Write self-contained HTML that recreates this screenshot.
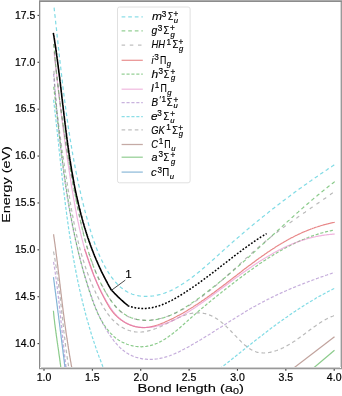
<!DOCTYPE html><html><head><meta charset="utf-8"><style>html,body{margin:0;padding:0;background:#fff;overflow:hidden;}svg{display:block;will-change:transform}text{font-family:"Liberation Sans",sans-serif;stroke:#000;stroke-width:0.12px;}</style></head><body>
<svg width="342" height="396" viewBox="0 0 342 396">
<rect width="342" height="396" fill="#fff"/>
<defs><clipPath id="ax"><rect x="39.5" y="0.5" width="301" height="368"/></clipPath></defs>
<g clip-path="url(#ax)" fill="none" stroke-linecap="butt" stroke-linejoin="round">
<path d="M53.6,234.3 L53.7,235.3 L53.8,236.3 L54.0,237.3 L54.1,238.3 L54.3,239.3 L54.4,240.3 L54.5,241.3 L54.7,242.3 L54.8,243.3 L55.0,244.3 L55.1,245.3 L55.2,246.3 L55.4,247.3 L55.5,248.3 L55.6,249.3 L55.8,250.3 L55.9,251.3 L56.0,252.3 L56.1,253.3 L56.3,254.3 L56.4,255.3 L56.5,256.3 L56.7,257.3 L56.8,258.3 L56.9,259.3 L57.0,260.3 L57.2,261.3 L57.3,262.3 L57.4,263.3 L57.5,264.3 L57.7,265.3 L57.8,266.3 L57.9,267.3 L58.0,268.3 L58.1,269.3 L58.3,270.3 L58.4,271.3 L58.5,272.3 L58.6,273.3 L58.8,274.3 L58.9,275.3 L59.0,276.3 L59.1,277.3 L59.2,278.3 L59.4,279.3 L59.5,280.3 L59.6,281.3 L59.7,282.3 L59.8,283.3 L60.0,284.3 L60.1,285.3 L60.2,286.3 L60.3,287.3 L60.4,288.3 L60.6,289.3 L60.7,290.3 L60.8,291.3 L60.9,292.3 L61.0,293.3 L61.2,294.3 L61.3,295.3 L61.4,296.3 L61.5,297.3 L61.6,298.3 L61.8,299.3 L61.9,300.3 L62.0,301.3 L62.1,302.3 L62.2,303.3 L62.4,304.3 L62.5,305.3 L62.6,306.3 L62.7,307.3 L62.9,308.3 L63.0,309.3 L63.1,310.3 L63.2,311.3 L63.4,312.3 L63.5,313.3 L63.6,314.3 L63.8,315.3 L63.9,316.3 L64.0,317.3 L64.1,318.3 L64.3,319.3 L64.4,320.3 L64.5,321.3 L64.7,322.3 L64.8,323.3 L64.9,324.3 L65.1,325.3 L65.2,326.3 L65.4,327.3 L65.5,328.3 L65.6,329.3 L65.8,330.3 L65.9,331.3 L66.0,332.3 L66.2,333.3 L66.3,334.3 L66.5,335.3 L66.6,336.3 L66.8,337.2 L66.9,338.2 L67.1,339.2 L67.2,340.2 L67.4,341.2 L67.5,342.2 L67.7,343.2 L67.8,344.2 L68.0,345.2 L68.1,346.2 L68.3,347.2 L68.4,348.2 L68.6,349.2 L68.8,350.2 L68.9,351.2 L69.1,352.2 L69.2,353.2 L69.4,354.2 L69.6,355.2 L69.7,356.2 L69.9,357.2 L70.1,358.1 L70.3,359.1 L70.4,360.1 L70.6,361.1 L70.8,362.1 L71.0,363.1 L71.1,364.1 L71.3,365.1 L71.5,366.1 L71.7,367.1 L71.9,368.1 L72.1,369.1 L72.3,370.1 L72.4,371.0 L72.6,372.0 L72.8,373.0 L73.0,374.0 L73.2,375.0 L73.4,376.0 L73.6,377.0" stroke="#8c564b" stroke-width="1.2" stroke-opacity="0.55"/>
<path d="M53.5,251.5 L53.7,252.5 L53.9,253.5 L54.1,254.5 L54.3,255.5 L54.4,256.5 L54.6,257.5 L54.8,258.5 L55.0,259.5 L55.1,260.5 L55.3,261.5 L55.5,262.5 L55.6,263.5 L55.8,264.5 L55.9,265.5 L56.1,266.5 L56.2,267.5 L56.4,268.5 L56.5,269.5 L56.7,270.5 L56.8,271.5 L57.0,272.5 L57.1,273.5 L57.3,274.5 L57.4,275.5 L57.5,276.5 L57.7,277.5 L57.8,278.5 L57.9,279.5 L58.1,280.5 L58.2,281.5 L58.3,282.5 L58.5,283.5 L58.6,284.5 L58.7,285.5 L58.8,286.5 L59.0,287.6 L59.1,288.6 L59.2,289.6 L59.3,290.6 L59.5,291.6 L59.6,292.6 L59.7,293.6 L59.8,294.6 L59.9,295.6 L60.0,296.6 L60.2,297.6 L60.3,298.6 L60.4,299.6 L60.5,300.6 L60.6,301.6 L60.7,302.6 L60.8,303.7 L60.9,304.7 L61.1,305.7 L61.2,306.7 L61.3,307.7 L61.4,308.7 L61.5,309.7 L61.6,310.7 L61.7,311.7 L61.8,312.7 L61.9,313.7 L62.1,314.7 L62.2,315.7 L62.3,316.7 L62.4,317.8 L62.5,318.8 L62.6,319.8 L62.7,320.8 L62.8,321.8 L62.9,322.8 L63.0,323.8 L63.2,324.8 L63.3,325.8 L63.4,326.8 L63.5,327.8 L63.6,328.8 L63.7,329.8 L63.8,330.8 L63.9,331.9 L64.1,332.9 L64.2,333.9 L64.3,334.9 L64.4,335.9 L64.5,336.9 L64.7,337.9 L64.8,338.9 L64.9,339.9 L65.0,340.9 L65.1,341.9 L65.3,342.9 L65.4,343.9 L65.5,344.9 L65.6,345.9 L65.8,346.9 L65.9,347.9 L66.0,349.0 L66.2,350.0 L66.3,351.0 L66.4,352.0 L66.6,353.0 L66.7,354.0 L66.9,355.0 L67.0,356.0 L67.1,357.0 L67.3,358.0 L67.4,359.0 L67.6,360.0 L67.7,361.0 L67.9,362.0 L68.0,363.0 L68.2,364.0 L68.4,365.0 L68.5,366.0 L68.7,367.0 L68.8,368.0 L69.0,369.0 L69.2,370.0 L69.3,371.0 L69.5,372.0 L69.7,373.0 L69.9,374.0 L70.0,375.0 L70.2,376.0 L70.4,377.0 L70.6,378.0" stroke="#7f7f7f" stroke-width="1.2" stroke-dasharray="3.6,3.0" stroke-opacity="0.55"/>
<path d="M53.6,261.9 L53.7,262.9 L53.9,263.9 L54.0,264.9 L54.2,265.9 L54.4,266.9 L54.5,267.9 L54.7,268.9 L54.8,269.9 L55.0,270.9 L55.1,271.9 L55.3,272.9 L55.4,274.0 L55.6,275.0 L55.7,276.0 L55.8,277.0 L56.0,278.0 L56.1,279.0 L56.3,280.0 L56.4,281.0 L56.5,282.0 L56.7,283.0 L56.8,284.0 L56.9,285.0 L57.1,286.0 L57.2,287.1 L57.3,288.1 L57.4,289.1 L57.6,290.1 L57.7,291.1 L57.8,292.1 L57.9,293.1 L58.0,294.1 L58.2,295.1 L58.3,296.1 L58.4,297.1 L58.5,298.2 L58.6,299.2 L58.7,300.2 L58.9,301.2 L59.0,302.2 L59.1,303.2 L59.2,304.2 L59.3,305.2 L59.4,306.2 L59.5,307.3 L59.6,308.3 L59.8,309.3 L59.9,310.3 L60.0,311.3 L60.1,312.3 L60.2,313.3 L60.3,314.3 L60.4,315.3 L60.5,316.4 L60.6,317.4 L60.7,318.4 L60.8,319.4 L60.9,320.4 L61.0,321.4 L61.1,322.4 L61.2,323.4 L61.3,324.4 L61.4,325.5 L61.6,326.5 L61.7,327.5 L61.8,328.5 L61.9,329.5 L62.0,330.5 L62.1,331.5 L62.2,332.5 L62.3,333.6 L62.4,334.6 L62.5,335.6 L62.6,336.6 L62.7,337.6 L62.8,338.6 L62.9,339.6 L63.0,340.6 L63.1,341.6 L63.2,342.7 L63.4,343.7 L63.5,344.7 L63.6,345.7 L63.7,346.7 L63.8,347.7 L63.9,348.7 L64.0,349.7 L64.1,350.7 L64.2,351.8 L64.4,352.8 L64.5,353.8 L64.6,354.8 L64.7,355.8 L64.8,356.8 L64.9,357.8 L65.1,358.8 L65.2,359.8 L65.3,360.9 L65.4,361.9 L65.6,362.9 L65.7,363.9 L65.8,364.9 L65.9,365.9 L66.1,366.9 L66.2,367.9 L66.3,368.9 L66.5,369.9 L66.6,370.9 L66.7,371.9 L66.9,373.0 L67.0,374.0 L67.1,375.0 L67.3,376.0 L67.4,377.0 L67.6,378.0" stroke="#9467bd" stroke-width="1.2" stroke-dasharray="3.1,1.8" stroke-opacity="0.55"/>
<path d="M53.5,277.1 L53.6,278.1 L53.7,279.1 L53.9,280.1 L54.0,281.1 L54.1,282.1 L54.3,283.2 L54.4,284.2 L54.5,285.2 L54.6,286.2 L54.8,287.2 L54.9,288.2 L55.0,289.2 L55.2,290.2 L55.3,291.2 L55.4,292.2 L55.6,293.2 L55.7,294.2 L55.8,295.3 L56.0,296.3 L56.1,297.3 L56.2,298.3 L56.4,299.3 L56.5,300.3 L56.6,301.3 L56.7,302.3 L56.9,303.3 L57.0,304.3 L57.1,305.3 L57.3,306.4 L57.4,307.4 L57.5,308.4 L57.6,309.4 L57.8,310.4 L57.9,311.4 L58.0,312.4 L58.2,313.4 L58.3,314.4 L58.4,315.4 L58.6,316.4 L58.7,317.5 L58.8,318.5 L58.9,319.5 L59.1,320.5 L59.2,321.5 L59.3,322.5 L59.5,323.5 L59.6,324.5 L59.7,325.5 L59.8,326.5 L60.0,327.5 L60.1,328.6 L60.2,329.6 L60.3,330.6 L60.5,331.6 L60.6,332.6 L60.7,333.6 L60.9,334.6 L61.0,335.6 L61.1,336.6 L61.2,337.6 L61.4,338.6 L61.5,339.7 L61.6,340.7 L61.7,341.7 L61.9,342.7 L62.0,343.7 L62.1,344.7 L62.3,345.7 L62.4,346.7 L62.5,347.7 L62.6,348.7 L62.8,349.7 L62.9,350.8 L63.0,351.8 L63.1,352.8 L63.3,353.8 L63.4,354.8 L63.5,355.8 L63.7,356.8 L63.8,357.8 L63.9,358.8 L64.0,359.8 L64.2,360.8 L64.3,361.9 L64.4,362.9 L64.5,363.9 L64.7,364.9 L64.8,365.9 L64.9,366.9 L65.0,367.9 L65.2,368.9 L65.3,369.9 L65.4,370.9 L65.5,371.9 L65.7,373.0 L65.8,374.0 L65.9,375.0 L66.1,376.0 L66.2,377.0 L66.3,378.0" stroke="#1f77b4" stroke-width="1.2" stroke-opacity="0.55"/>
<path d="M53.4,310.8 L53.5,311.8 L53.6,312.8 L53.7,313.9 L53.8,314.9 L53.9,315.9 L54.0,316.9 L54.1,318.0 L54.2,319.0 L54.4,320.0 L54.5,321.0 L54.6,322.0 L54.7,323.0 L54.8,324.1 L55.0,325.1 L55.1,326.1 L55.2,327.1 L55.4,328.1 L55.5,329.2 L55.6,330.2 L55.8,331.2 L55.9,332.2 L56.0,333.2 L56.2,334.2 L56.3,335.3 L56.5,336.3 L56.6,337.3 L56.8,338.3 L56.9,339.3 L57.0,340.3 L57.2,341.4 L57.3,342.4 L57.5,343.4 L57.6,344.4 L57.8,345.4 L57.9,346.4 L58.1,347.5 L58.2,348.5 L58.4,349.5 L58.5,350.5 L58.7,351.5 L58.8,352.5 L58.9,353.6 L59.1,354.6 L59.2,355.6 L59.4,356.6 L59.5,357.6 L59.7,358.6 L59.8,359.7 L59.9,360.7 L60.1,361.7 L60.2,362.7 L60.3,363.7 L60.5,364.7 L60.6,365.8 L60.7,366.8 L60.9,367.8 L61.0,368.8 L61.1,369.8 L61.2,370.9 L61.3,371.9 L61.5,372.9 L61.6,373.9 L61.7,374.9 L61.8,376.0 L61.9,377.0 L62.0,378.0" stroke="#2ca02c" stroke-width="1.2" stroke-opacity="0.55"/>
<path d="M284.60,375.00L334.50,336.80" stroke="#8c564b" stroke-width="1.2" stroke-opacity="0.55"/>
<path d="M305.20,375.00L334.50,350.30" stroke="#2ca02c" stroke-width="1.2" stroke-opacity="0.55"/>
<path d="M53.6,99.8 L53.7,100.8 L53.8,101.8 L53.9,102.7 L54.1,103.7 L54.2,104.7 L54.3,105.7 L54.4,106.7 L54.5,107.7 L54.6,108.7 L54.8,109.7 L54.9,110.7 L55.0,111.7 L55.1,112.7 L55.2,113.7 L55.3,114.7 L55.4,115.7 L55.5,116.7 L55.7,117.6 L55.8,118.6 L55.9,119.6 L56.0,120.6 L56.1,121.6 L56.2,122.6 L56.3,123.6 L56.4,124.6 L56.5,125.6 L56.6,126.6 L56.8,127.6 L56.9,128.6 L57.0,129.6 L57.1,130.6 L57.2,131.6 L57.3,132.6 L57.4,133.6 L57.5,134.6 L57.6,135.6 L57.7,136.6 L57.8,137.6 L57.9,138.6 L58.1,139.6 L58.2,140.6 L58.3,141.6 L58.4,142.6 L58.5,143.6 L58.6,144.6 L58.7,145.6 L58.8,146.6 L58.9,147.6 L59.0,148.6 L59.1,149.6 L59.2,150.6 L59.3,151.6 L59.5,152.6 L59.6,153.6 L59.7,154.6 L59.8,155.6 L59.9,156.6 L60.0,157.6 L60.1,158.6 L60.2,159.6 L60.3,160.6 L60.4,161.6 L60.5,162.6 L60.6,163.6 L60.8,164.6 L60.9,165.6 L61.0,166.6 L61.1,167.6 L61.2,168.6 L61.3,169.6 L61.4,170.6 L61.5,171.6 L61.6,172.6 L61.8,173.6 L61.9,174.6 L62.0,175.6 L62.1,176.6 L62.2,177.6 L62.3,178.6 L62.4,179.6 L62.6,180.6 L62.7,181.6 L62.8,182.6 L62.9,183.6 L63.0,184.6 L63.1,185.6 L63.2,186.6 L63.4,187.6 L63.5,188.6 L63.6,189.6 L63.7,190.6 L63.8,191.6 L64.0,192.6 L64.1,193.6 L64.2,194.6 L64.3,195.6 L64.4,196.6 L64.6,197.6 L64.7,198.6 L64.8,199.6 L64.9,200.6 L65.1,201.6 L65.2,202.6 L65.3,203.6 L65.4,204.6 L65.6,205.6 L65.7,206.6 L65.8,207.6 L65.9,208.6 L66.1,209.6 L66.2,210.6 L66.3,211.6 L66.5,212.6 L66.6,213.6 L66.7,214.6 L66.9,215.6 L67.0,216.6 L67.1,217.6 L67.3,218.6 L67.4,219.6 L67.6,220.6 L67.7,221.6 L67.8,222.6 L68.0,223.6 L68.1,224.6 L68.3,225.6 L68.4,226.6 L68.5,227.6 L68.7,228.6 L68.8,229.6 L69.0,230.6 L69.1,231.6 L69.3,232.6 L69.4,233.5 L69.6,234.5 L69.7,235.5 L69.9,236.5 L70.0,237.5 L70.2,238.5 L70.3,239.5 L70.5,240.5 L70.6,241.5 L70.8,242.5 L71.0,243.5 L71.1,244.5 L71.3,245.5 L71.4,246.5 L71.6,247.5 L71.8,248.5 L71.9,249.4 L72.1,250.4 L72.3,251.4 L72.4,252.4 L72.6,253.4 L72.8,254.4 L72.9,255.4 L73.1,256.4 L73.3,257.4 L73.5,258.4 L73.6,259.4 L73.8,260.3 L74.0,261.3 L74.2,262.3 L74.4,263.3 L74.5,264.3 L74.7,265.3 L74.9,266.3 L75.1,267.3 L75.3,268.3 L75.5,269.2 L75.7,270.2 L75.8,271.2 L76.0,272.2 L76.2,273.2 L76.4,274.2 L76.6,275.2 L76.8,276.1 L77.0,277.1 L77.2,278.1 L77.4,279.1 L77.6,280.1 L77.8,281.1 L78.0,282.0 L78.2,283.0 L78.4,284.0 L78.7,285.0 L78.9,286.0 L79.1,286.9 L79.3,287.9 L79.5,288.9 L79.7,289.9 L80.0,290.9 L80.2,291.8 L80.4,292.8 L80.6,293.8 L80.8,294.8 L81.1,295.8 L81.3,296.7 L81.5,297.7 L81.8,298.7 L82.0,299.7 L82.2,300.6 L82.5,301.6 L82.7,302.6 L82.9,303.6 L83.2,304.5 L83.4,305.5 L83.7,306.5 L83.9,307.4 L84.2,308.4 L84.4,309.4 L84.7,310.4 L84.9,311.3 L85.2,312.3 L85.4,313.3 L85.7,314.2 L85.9,315.2 L86.2,316.2 L86.5,317.1 L86.7,318.1 L87.0,319.1 L87.3,320.0 L87.5,321.0 L87.8,322.0 L88.1,322.9 L88.4,323.9 L88.7,324.9 L88.9,325.8 L89.2,326.8 L89.5,327.8 L89.8,328.7 L90.1,329.7 L90.4,330.6 L90.7,331.6 L90.9,332.6 L91.2,333.5 L91.5,334.5 L91.8,335.4 L92.1,336.4 L92.4,337.3 L92.7,338.3 L93.1,339.3 L93.4,340.2 L93.7,341.2 L94.0,342.1 L94.3,343.1 L94.6,344.0 L94.9,345.0 L95.3,345.9 L95.6,346.9 L95.9,347.8 L96.2,348.8 L96.6,349.7 L96.9,350.7 L97.2,351.6 L97.6,352.6 L97.9,353.5 L98.3,354.5 L98.6,355.4 L98.9,356.4 L99.3,357.3 L99.6,358.2 L100.0,359.2 L100.4,360.1 L100.7,361.1 L101.1,362.0 L101.4,363.0 L101.8,363.9 L102.2,364.8 L102.5,365.8 L102.9,366.7 L103.3,367.7 L103.6,368.6 L104.0,369.5 L104.4,370.5 L104.8,371.4 L105.2,372.3 L105.6,373.3 L105.9,374.2 L106.3,375.1 L106.7,376.1" stroke="#17becf" stroke-width="1.2" stroke-dasharray="3.1,1.8" stroke-opacity="0.55"/>
<path d="M212.0,374.9 L212.8,374.3 L213.6,373.7 L214.4,373.1 L215.1,372.5 L215.9,371.8 L216.7,371.2 L217.5,370.6 L218.3,370.0 L219.1,369.4 L219.9,368.7 L220.7,368.1 L221.5,367.5 L222.3,366.9 L223.0,366.2 L223.8,365.6 L224.6,365.0 L225.4,364.3 L226.2,363.7 L227.0,363.1 L227.8,362.5 L228.6,361.8 L229.4,361.2 L230.1,360.6 L230.9,359.9 L231.7,359.3 L232.5,358.7 L233.3,358.0 L234.1,357.4 L234.9,356.8 L235.7,356.2 L236.4,355.5 L237.2,354.9 L238.0,354.3 L238.8,353.6 L239.6,353.0 L240.4,352.4 L241.2,351.7 L242.0,351.1 L242.8,350.5 L243.5,349.8 L244.3,349.2 L245.1,348.6 L245.9,348.0 L246.7,347.3 L247.5,346.7 L248.3,346.1 L249.1,345.4 L249.9,344.8 L250.7,344.2 L251.5,343.6 L252.2,342.9 L253.0,342.3 L253.8,341.7 L254.6,341.1 L255.4,340.4 L256.2,339.8 L257.0,339.2 L257.8,338.6 L258.6,337.9 L259.4,337.3 L260.2,336.7 L261.0,336.1 L261.8,335.5 L262.6,334.9 L263.4,334.2 L264.2,333.6 L265.0,333.0 L265.8,332.4 L266.6,331.8 L267.4,331.2 L268.2,330.6 L269.0,330.0 L269.8,329.3 L270.6,328.7 L271.4,328.1 L272.3,327.5 L273.1,326.9 L273.9,326.3 L274.7,325.7 L275.5,325.1 L276.3,324.5 L277.1,323.9 L277.9,323.3 L278.7,322.7 L279.6,322.1 L280.4,321.5 L281.2,321.0 L282.0,320.4 L282.8,319.8 L283.7,319.2 L284.5,318.6 L285.3,318.0 L286.1,317.4 L287.0,316.9 L287.8,316.3 L288.6,315.7 L289.4,315.1 L290.3,314.6 L291.1,314.0 L291.9,313.4 L292.8,312.9 L293.6,312.3 L294.4,311.7 L295.3,311.2 L296.1,310.6 L296.9,310.1 L297.8,309.5 L298.6,308.9 L299.5,308.4 L300.3,307.8 L301.2,307.3 L302.0,306.8 L302.9,306.2 L303.7,305.7 L304.6,305.1 L305.4,304.6 L306.3,304.1 L307.1,303.5 L308.0,303.0 L308.8,302.5 L309.7,302.0 L310.6,301.4 L311.4,300.9 L312.3,300.4 L313.2,299.9 L314.0,299.4 L314.9,298.9 L315.8,298.3 L316.6,297.8 L317.5,297.3 L318.4,296.8 L319.3,296.3 L320.2,295.9 L321.0,295.4 L321.9,294.9 L322.8,294.4 L323.7,293.9 L324.6,293.4 L325.5,292.9 L326.4,292.5 L327.3,292.0 L328.1,291.5 L329.0,291.1 L329.9,290.6 L330.8,290.1 L331.8,289.7 L332.7,289.2 L333.6,288.8 L334.5,288.3" stroke="#17becf" stroke-width="1.2" stroke-dasharray="3.1,1.8" stroke-opacity="0.55"/>
<path d="M53.6,73.9 L53.7,74.9 L53.8,75.9 L53.9,76.9 L54.0,77.9 L54.1,78.9 L54.1,79.9 L54.2,80.9 L54.3,81.9 L54.4,82.9 L54.5,83.9 L54.6,84.9 L54.7,85.9 L54.7,86.9 L54.8,87.9 L54.9,88.9 L55.0,89.9 L55.1,90.9 L55.2,91.9 L55.3,92.9 L55.4,93.9 L55.5,94.9 L55.5,95.9 L55.6,96.9 L55.7,97.9 L55.8,98.9 L55.9,99.9 L56.0,100.9 L56.1,101.9 L56.2,102.9 L56.3,103.9 L56.3,104.9 L56.4,105.9 L56.5,106.9 L56.6,107.9 L56.7,108.9 L56.8,109.9 L56.9,110.9 L57.0,111.9 L57.1,112.9 L57.2,113.9 L57.3,114.9 L57.4,115.9 L57.5,116.9 L57.6,117.9 L57.7,118.9 L57.8,119.9 L57.8,120.9 L57.9,121.9 L58.0,122.9 L58.1,123.9 L58.2,124.9 L58.3,125.9 L58.4,126.9 L58.5,127.9 L58.6,128.9 L58.7,129.9 L58.8,130.9 L58.9,131.9 L59.0,132.9 L59.1,133.9 L59.2,134.9 L59.4,135.9 L59.5,136.9 L59.6,137.9 L59.7,138.9 L59.8,139.9 L59.9,140.9 L60.0,141.9 L60.1,142.9 L60.2,143.9 L60.3,144.9 L60.4,145.9 L60.5,146.9 L60.7,147.9 L60.8,148.9 L60.9,149.9 L61.0,150.9 L61.1,151.9 L61.2,152.9 L61.3,153.8 L61.5,154.8 L61.6,155.8 L61.7,156.8 L61.8,157.8 L61.9,158.8 L62.1,159.8 L62.2,160.8 L62.3,161.8 L62.4,162.8 L62.5,163.8 L62.7,164.8 L62.8,165.8 L62.9,166.8 L63.1,167.8 L63.2,168.8 L63.3,169.8 L63.4,170.8 L63.6,171.8 L63.7,172.8 L63.8,173.8 L64.0,174.8 L64.1,175.8 L64.2,176.7 L64.4,177.7 L64.5,178.7 L64.7,179.7 L64.8,180.7 L64.9,181.7 L65.1,182.7 L65.2,183.7 L65.4,184.7 L65.5,185.7 L65.7,186.7 L65.8,187.7 L66.0,188.7 L66.1,189.6 L66.3,190.6 L66.4,191.6 L66.6,192.6 L66.7,193.6 L66.9,194.6 L67.0,195.6 L67.2,196.6 L67.4,197.6 L67.5,198.6 L67.7,199.5 L67.8,200.5 L68.0,201.5 L68.2,202.5 L68.3,203.5 L68.5,204.5 L68.7,205.5 L68.8,206.5 L69.0,207.5 L69.2,208.4 L69.4,209.4 L69.5,210.4 L69.7,211.4 L69.9,212.4 L70.1,213.4 L70.3,214.4 L70.4,215.3 L70.6,216.3 L70.8,217.3 L71.0,218.3 L71.2,219.3 L71.4,220.3 L71.6,221.2 L71.7,222.2 L71.9,223.2 L72.1,224.2 L72.3,225.2 L72.5,226.2 L72.7,227.1 L72.9,228.1 L73.1,229.1 L73.3,230.1 L73.5,231.1 L73.7,232.0 L74.0,233.0 L74.2,234.0 L74.4,235.0 L74.6,236.0 L74.8,236.9 L75.0,237.9 L75.2,238.9 L75.5,239.9 L75.7,240.9 L75.9,241.8 L76.1,242.8 L76.4,243.8 L76.6,244.8 L76.8,245.7 L77.0,246.7 L77.3,247.7 L77.5,248.7 L77.7,249.6 L78.0,250.6 L78.2,251.6 L78.5,252.6 L78.7,253.5 L79.0,254.5 L79.2,255.5 L79.4,256.4 L79.7,257.4 L80.0,258.4 L80.2,259.4 L80.5,260.3 L80.7,261.3 L81.0,262.3 L81.2,263.2 L81.5,264.2 L81.8,265.2 L82.0,266.1 L82.3,267.1 L82.6,268.1 L82.8,269.0 L83.1,270.0 L83.4,271.0 L83.7,271.9 L84.0,272.9 L84.2,273.9 L84.5,274.8 L84.8,275.8 L85.1,276.8 L85.4,277.7 L85.7,278.7 L86.0,279.6 L86.3,280.6 L86.6,281.6 L86.9,282.5 L87.2,283.5 L87.5,284.5 L87.8,285.4 L88.1,286.4 L88.4,287.3 L88.7,288.3 L89.0,289.2 L89.3,290.2 L89.7,291.2 L90.0,292.1 L90.3,293.1 L90.6,294.0 L91.0,295.0 L91.3,295.9 L91.6,296.9 L92.0,297.8 L92.3,298.8 L92.6,299.7 L93.0,300.7 L93.3,301.6 L93.7,302.6 L94.0,303.5 L94.4,304.5 L94.8,305.4 L95.1,306.4 L95.5,307.3 L95.9,308.2 L96.2,309.2 L96.6,310.1 L97.0,311.0 L97.4,312.0 L97.8,312.9 L98.2,313.8 L98.6,314.7 L99.0,315.7 L99.5,316.6 L99.9,317.5 L100.3,318.4 L100.7,319.3 L101.2,320.2 L101.6,321.1 L102.1,322.0 L102.6,322.9 L103.0,323.8 L103.5,324.7 L104.0,325.6 L104.5,326.5 L105.0,327.3 L105.5,328.2 L106.0,329.1 L106.5,329.9 L107.0,330.8 L107.5,331.7 L108.1,332.5 L108.6,333.4 L109.2,334.2 L109.8,335.1 L110.3,335.9 L110.9,336.7 L111.5,337.6 L112.1,338.4 L112.7,339.2 L113.3,340.0 L113.9,340.8 L114.6,341.6 L115.2,342.4 L115.9,343.2 L116.5,343.9 L117.2,344.7 L117.9,345.4 L118.6,346.1 L119.3,346.9 L120.0,347.6 L120.7,348.2 L121.5,348.9 L122.2,349.6 L123.0,350.2 L123.8,350.8 L124.5,351.4 L125.3,352.0 L126.1,352.5 L126.9,353.1 L127.8,353.6 L128.6,354.1 L129.5,354.5 L130.3,355.0 L131.2,355.4 L132.1,355.8 L133.0,356.2 L133.9,356.5 L134.8,356.9 L135.7,357.2 L136.6,357.5 L137.6,357.7 L138.5,358.0 L139.5,358.2 L140.4,358.4 L141.4,358.6 L142.3,358.8 L143.3,358.9 L144.3,359.0 L145.2,359.2 L146.2,359.2 L147.2,359.3 L148.2,359.3 L149.2,359.4 L150.2,359.4 L151.2,359.4 L152.2,359.3 L153.2,359.3 L154.1,359.2 L155.1,359.1 L156.1,359.0 L157.1,358.9 L158.1,358.7 L159.1,358.6 L160.1,358.4 L161.1,358.2 L162.0,358.0 L163.0,357.7 L164.0,357.5 L165.0,357.2 L165.9,356.9 L166.9,356.6 L167.8,356.3 L168.8,356.0 L169.8,355.7 L170.7,355.3 L171.7,355.0 L172.6,354.6 L173.5,354.2 L174.5,353.8 L175.4,353.4 L176.4,353.0 L177.3,352.5 L178.2,352.1 L179.2,351.7 L180.1,351.2 L181.0,350.7 L181.9,350.3 L182.8,349.8 L183.8,349.3 L184.7,348.8 L185.6,348.4 L186.5,347.9 L187.4,347.4 L188.3,346.9 L189.2,346.4 L190.1,345.9 L191.0,345.4 L191.9,344.8 L192.8,344.3 L193.6,343.8 L194.5,343.3 L195.4,342.8 L196.3,342.3 L197.2,341.8 L198.0,341.2 L198.9,340.7 L199.8,340.2 L200.7,339.7 L201.5,339.2 L202.4,338.6 L203.3,338.1 L204.1,337.6 L205.0,337.1 L205.8,336.5 L206.7,336.0 L207.6,335.5 L208.4,334.9 L209.3,334.4 L210.1,333.9 L211.0,333.3 L211.8,332.8 L212.7,332.3 L213.5,331.7 L214.4,331.2 L215.2,330.7 L216.1,330.1 L216.9,329.6 L217.7,329.1 L218.6,328.5 L219.4,328.0 L220.3,327.4 L221.1,326.9 L222.0,326.4 L222.8,325.8 L223.6,325.3 L224.5,324.8 L225.3,324.2 L226.2,323.7 L227.0,323.2 L227.8,322.6 L228.7,322.1 L229.5,321.6 L230.4,321.0 L231.2,320.5 L232.0,320.0 L232.9,319.4 L233.7,318.9 L234.6,318.4 L235.4,317.9 L236.2,317.3 L237.1,316.8 L237.9,316.3 L238.8,315.8 L239.6,315.3 L240.5,314.7 L241.3,314.2 L242.2,313.7 L243.0,313.2 L243.9,312.7 L244.7,312.2 L245.6,311.6 L246.4,311.1 L247.3,310.6 L248.1,310.1 L249.0,309.6 L249.8,309.1 L250.7,308.6 L251.5,308.1 L252.4,307.6 L253.3,307.1 L254.1,306.6 L255.0,306.2 L255.9,305.7 L256.8,305.2 L257.6,304.7 L258.5,304.2 L259.4,303.7 L260.3,303.3 L261.1,302.8 L262.0,302.3 L262.9,301.9 L263.8,301.4 L264.7,300.9 L265.6,300.5 L266.5,300.0 L267.4,299.6 L268.3,299.1 L269.2,298.7 L270.1,298.2 L271.0,297.8 L271.9,297.3 L272.8,296.9 L273.7,296.4 L274.6,296.0 L275.5,295.6 L276.4,295.1 L277.3,294.7 L278.3,294.3 L279.2,293.9 L280.1,293.4 L281.0,293.0 L281.9,292.6 L282.9,292.2 L283.8,291.8 L284.7,291.4 L285.6,291.0 L286.6,290.5 L287.5,290.1 L288.4,289.7 L289.3,289.3 L290.3,288.9 L291.2,288.5 L292.1,288.2 L293.1,287.8 L294.0,287.4 L294.9,287.0 L295.9,286.6 L296.8,286.2 L297.8,285.8 L298.7,285.5 L299.6,285.1 L300.6,284.7 L301.5,284.3 L302.5,284.0 L303.4,283.6 L304.3,283.2 L305.3,282.9 L306.2,282.5 L307.2,282.1 L308.1,281.8 L309.1,281.4 L310.0,281.1 L310.9,280.7 L311.9,280.4 L312.8,280.0 L313.8,279.7 L314.7,279.3 L315.7,279.0 L316.6,278.6 L317.6,278.3 L318.5,277.9 L319.4,277.6 L320.4,277.3 L321.3,276.9 L322.3,276.6 L323.2,276.3 L324.2,275.9 L325.1,275.6 L326.0,275.3 L327.0,275.0 L327.9,274.6 L328.9,274.3 L329.8,274.0 L330.7,273.7 L331.7,273.4 L332.6,273.0 L333.6,272.7 L334.5,272.4" stroke="#9467bd" stroke-width="1.2" stroke-dasharray="3.1,1.8" stroke-opacity="0.55"/>
<path d="M53.7,86.8 L53.8,87.8 L53.9,88.8 L54.0,89.8 L54.1,90.8 L54.3,91.8 L54.4,92.8 L54.5,93.8 L54.6,94.8 L54.7,95.8 L54.9,96.8 L55.0,97.8 L55.1,98.8 L55.2,99.8 L55.3,100.7 L55.4,101.7 L55.6,102.7 L55.7,103.7 L55.8,104.7 L55.9,105.7 L56.0,106.7 L56.1,107.7 L56.3,108.7 L56.4,109.7 L56.5,110.7 L56.6,111.7 L56.7,112.7 L56.8,113.7 L57.0,114.7 L57.1,115.7 L57.2,116.7 L57.3,117.7 L57.4,118.7 L57.5,119.7 L57.7,120.7 L57.8,121.7 L57.9,122.7 L58.0,123.7 L58.1,124.7 L58.2,125.7 L58.4,126.7 L58.5,127.7 L58.6,128.7 L58.7,129.7 L58.8,130.7 L58.9,131.7 L59.1,132.7 L59.2,133.7 L59.3,134.7 L59.4,135.7 L59.5,136.7 L59.6,137.7 L59.8,138.7 L59.9,139.7 L60.0,140.7 L60.1,141.7 L60.2,142.6 L60.4,143.6 L60.5,144.6 L60.6,145.6 L60.7,146.6 L60.8,147.6 L61.0,148.6 L61.1,149.6 L61.2,150.6 L61.3,151.6 L61.5,152.6 L61.6,153.6 L61.7,154.6 L61.8,155.6 L62.0,156.6 L62.1,157.6 L62.2,158.6 L62.3,159.6 L62.5,160.6 L62.6,161.6 L62.7,162.6 L62.8,163.5 L63.0,164.5 L63.1,165.5 L63.2,166.5 L63.4,167.5 L63.5,168.5 L63.6,169.5 L63.8,170.5 L63.9,171.5 L64.0,172.5 L64.2,173.5 L64.3,174.5 L64.5,175.5 L64.6,176.5 L64.7,177.4 L64.9,178.4 L65.0,179.4 L65.1,180.4 L65.3,181.4 L65.4,182.4 L65.6,183.4 L65.7,184.4 L65.9,185.4 L66.0,186.4 L66.2,187.4 L66.3,188.4 L66.5,189.3 L66.6,190.3 L66.8,191.3 L66.9,192.3 L67.1,193.3 L67.2,194.3 L67.4,195.3 L67.5,196.3 L67.7,197.3 L67.8,198.2 L68.0,199.2 L68.2,200.2 L68.3,201.2 L68.5,202.2 L68.6,203.2 L68.8,204.2 L69.0,205.2 L69.1,206.1 L69.3,207.1 L69.5,208.1 L69.6,209.1 L69.8,210.1 L70.0,211.1 L70.2,212.1 L70.3,213.1 L70.5,214.0 L70.7,215.0 L70.9,216.0 L71.0,217.0 L71.2,218.0 L71.4,219.0 L71.6,219.9 L71.8,220.9 L72.0,221.9 L72.1,222.9 L72.3,223.9 L72.5,224.9 L72.7,225.8 L72.9,226.8 L73.1,227.8 L73.3,228.8 L73.5,229.8 L73.7,230.8 L73.9,231.7 L74.1,232.7 L74.3,233.7 L74.5,234.7 L74.7,235.7 L74.9,236.6 L75.1,237.6 L75.3,238.6 L75.5,239.6 L75.8,240.6 L76.0,241.5 L76.2,242.5 L76.4,243.5 L76.6,244.5 L76.8,245.4 L77.1,246.4 L77.3,247.4 L77.5,248.4 L77.8,249.3 L78.0,250.3 L78.2,251.3 L78.4,252.3 L78.7,253.3 L78.9,254.2 L79.2,255.2 L79.4,256.2 L79.6,257.1 L79.9,258.1 L80.1,259.1 L80.4,260.1 L80.6,261.0 L80.9,262.0 L81.1,263.0 L81.4,264.0 L81.6,264.9 L81.9,265.9 L82.2,266.9 L82.4,267.8 L82.7,268.8 L82.9,269.8 L83.2,270.8 L83.5,271.7 L83.8,272.7 L84.0,273.7 L84.3,274.6 L84.6,275.6 L84.9,276.6 L85.1,277.5 L85.4,278.5 L85.7,279.5 L86.0,280.4 L86.3,281.4 L86.6,282.4 L86.9,283.3 L87.2,284.3 L87.5,285.3 L87.8,286.2 L88.1,287.2 L88.4,288.1 L88.7,289.1 L89.0,290.1 L89.3,291.0 L89.6,292.0 L89.9,293.0 L90.3,293.9 L90.6,294.9 L90.9,295.8 L91.2,296.8 L91.6,297.8 L91.9,298.7 L92.2,299.7 L92.6,300.6 L92.9,301.6 L93.3,302.5 L93.6,303.5 L94.0,304.4 L94.4,305.4 L94.7,306.3 L95.1,307.2 L95.5,308.2 L95.9,309.1 L96.3,310.0 L96.7,311.0 L97.1,311.9 L97.5,312.8 L97.9,313.7 L98.4,314.6 L98.8,315.5 L99.3,316.4 L99.7,317.3 L100.2,318.2 L100.7,319.1 L101.2,320.0 L101.7,320.8 L102.2,321.7 L102.7,322.6 L103.2,323.4 L103.8,324.3 L104.3,325.1 L104.9,326.0 L105.4,326.8 L106.0,327.6 L106.6,328.4 L107.2,329.2 L107.9,330.0 L108.5,330.8 L109.1,331.6 L109.8,332.3 L110.5,333.1 L111.2,333.8 L111.9,334.5 L112.6,335.2 L113.3,335.9 L114.1,336.6 L114.8,337.3 L115.6,337.9 L116.4,338.5 L117.2,339.1 L118.1,339.7 L118.9,340.2 L119.8,340.7 L120.6,341.2 L121.5,341.7 L122.4,342.2 L123.3,342.6 L124.2,343.1 L125.1,343.5 L126.0,343.8 L127.0,344.2 L127.9,344.5 L128.9,344.8 L129.8,345.1 L130.8,345.4 L131.8,345.6 L132.7,345.9 L133.7,346.0 L134.7,346.2 L135.7,346.4 L136.6,346.5 L137.6,346.6 L138.6,346.7 L139.6,346.7 L140.5,346.7 L141.5,346.8 L142.5,346.7 L143.4,346.7 L144.4,346.6 L145.4,346.5 L146.3,346.4 L147.2,346.2 L148.2,346.1 L149.1,345.9 L150.0,345.7 L151.0,345.4 L151.9,345.2 L152.8,344.9 L153.7,344.6 L154.6,344.2 L155.5,343.9 L156.4,343.5 L157.3,343.2 L158.2,342.8 L159.1,342.3 L159.9,341.9 L160.8,341.4 L161.7,341.0 L162.5,340.5 L163.4,340.0 L164.2,339.5 L165.1,339.0 L165.9,338.4 L166.8,337.9 L167.6,337.3 L168.5,336.7 L169.3,336.1 L170.1,335.5 L171.0,334.9 L171.8,334.3 L172.6,333.7 L173.4,333.0 L174.2,332.4 L175.0,331.7 L175.9,331.1 L176.7,330.4 L177.5,329.7 L178.3,329.1 L179.1,328.4 L179.9,327.7 L180.7,327.0 L181.5,326.3 L182.2,325.6 L183.0,324.9 L183.8,324.2 L184.6,323.5 L185.4,322.8 L186.2,322.1 L187.0,321.4 L187.7,320.7 L188.5,320.0 L189.3,319.3 L190.1,318.6 L190.8,318.0 L191.6,317.3 L192.4,316.6 L193.2,315.9 L193.9,315.2 L194.7,314.6 L195.5,313.9 L196.2,313.2 L197.0,312.6 L197.8,311.9 L198.5,311.2 L199.3,310.6 L200.1,309.9 L200.8,309.3 L201.6,308.6 L202.4,308.0 L203.1,307.3 L203.9,306.7 L204.6,306.1 L205.4,305.4 L206.2,304.8 L206.9,304.1 L207.7,303.5 L208.5,302.9 L209.2,302.3 L210.0,301.6 L210.7,301.0 L211.5,300.4 L212.3,299.8 L213.0,299.1 L213.8,298.5 L214.6,297.9 L215.3,297.3 L216.1,296.7 L216.9,296.1 L217.6,295.4 L218.4,294.8 L219.2,294.2 L219.9,293.6 L220.7,293.0 L221.5,292.4 L222.2,291.8 L223.0,291.2 L223.8,290.6 L224.5,290.0 L225.3,289.3 L226.1,288.7 L226.9,288.1 L227.7,287.5 L228.4,286.9 L229.2,286.3 L230.0,285.7 L230.8,285.1 L231.6,284.5 L232.3,283.9 L233.1,283.3 L233.9,282.7 L234.7,282.1 L235.5,281.5 L236.3,280.8 L237.1,280.2 L237.9,279.6 L238.7,279.0 L239.5,278.4 L240.3,277.8 L241.1,277.2 L241.9,276.6 L242.7,276.0 L243.5,275.4 L244.3,274.8 L245.1,274.2 L245.9,273.6 L246.7,273.0 L247.5,272.4 L248.4,271.8 L249.2,271.2 L250.0,270.6 L250.8,270.0 L251.6,269.4 L252.5,268.9 L253.3,268.3 L254.1,267.7 L254.9,267.1 L255.8,266.5 L256.6,265.9 L257.4,265.4 L258.3,264.8 L259.1,264.2 L259.9,263.6 L260.8,263.1 L261.6,262.5 L262.4,261.9 L263.3,261.4 L264.1,260.8 L265.0,260.3 L265.8,259.7 L266.7,259.1 L267.5,258.6 L268.4,258.0 L269.2,257.5 L270.1,257.0 L270.9,256.4 L271.8,255.9 L272.7,255.4 L273.5,254.8 L274.4,254.3 L275.3,253.8 L276.1,253.3 L277.0,252.7 L277.9,252.2 L278.7,251.7 L279.6,251.2 L280.5,250.7 L281.4,250.2 L282.2,249.7 L283.1,249.2 L284.0,248.7 L284.9,248.3 L285.8,247.8 L286.7,247.3 L287.6,246.8 L288.4,246.4 L289.3,245.9 L290.2,245.4 L291.1,245.0 L292.0,244.5 L292.9,244.1 L293.8,243.7 L294.7,243.2 L295.6,242.8 L296.5,242.4 L297.5,242.0 L298.4,241.5 L299.3,241.1 L300.2,240.7 L301.1,240.3 L302.0,239.9 L302.9,239.5 L303.9,239.2 L304.8,238.8 L305.7,238.4 L306.6,238.0 L307.6,237.7 L308.5,237.3 L309.4,237.0 L310.4,236.6 L311.3,236.3 L312.2,235.9 L313.2,235.6 L314.1,235.3 L315.1,235.0 L316.0,234.7 L317.0,234.4 L317.9,234.1 L318.9,233.8 L319.8,233.5 L320.8,233.2 L321.7,233.0 L322.7,232.7 L323.7,232.4 L324.6,232.2 L325.6,231.9 L326.6,231.7 L327.5,231.5 L328.5,231.3 L329.5,231.0 L330.4,230.8 L331.4,230.6 L332.4,230.4 L333.4,230.2 L334.4,230.1" stroke="#2ca02c" stroke-width="1.2" stroke-dasharray="3.1,1.8" stroke-opacity="0.55"/>
<path d="M53.9,70.9 L54.0,71.9 L54.0,72.9 L54.1,73.9 L54.1,74.9 L54.2,75.9 L54.2,76.9 L54.3,77.9 L54.3,78.9 L54.4,79.9 L54.4,80.9 L54.5,81.9 L54.6,82.9 L54.6,83.9 L54.7,84.9 L54.8,85.9 L54.8,86.9 L54.9,87.9 L55.0,88.9 L55.1,89.9 L55.1,90.9 L55.2,91.9 L55.3,92.9 L55.4,93.9 L55.5,94.9 L55.5,95.9 L55.6,96.9 L55.7,97.9 L55.8,98.9 L55.9,99.9 L56.0,100.9 L56.1,101.9 L56.2,102.9 L56.3,103.9 L56.4,104.9 L56.5,105.9 L56.6,106.9 L56.7,107.9 L56.8,108.9 L56.9,109.9 L57.0,110.8 L57.1,111.8 L57.2,112.8 L57.3,113.8 L57.5,114.8 L57.6,115.8 L57.7,116.8 L57.8,117.8 L57.9,118.8 L58.0,119.8 L58.2,120.8 L58.3,121.8 L58.4,122.8 L58.5,123.8 L58.6,124.8 L58.8,125.8 L58.9,126.8 L59.0,127.8 L59.2,128.8 L59.3,129.7 L59.4,130.7 L59.5,131.7 L59.7,132.7 L59.8,133.7 L59.9,134.7 L60.1,135.7 L60.2,136.7 L60.3,137.7 L60.5,138.7 L60.6,139.7 L60.8,140.7 L60.9,141.7 L61.0,142.6 L61.2,143.6 L61.3,144.6 L61.5,145.6 L61.6,146.6 L61.7,147.6 L61.9,148.6 L62.0,149.6 L62.2,150.6 L62.3,151.6 L62.5,152.6 L62.6,153.6 L62.8,154.6 L62.9,155.5 L63.1,156.5 L63.2,157.5 L63.4,158.5 L63.5,159.5 L63.7,160.5 L63.8,161.5 L64.0,162.5 L64.1,163.5 L64.3,164.5 L64.4,165.5 L64.6,166.5 L64.7,167.4 L64.9,168.4 L65.0,169.4 L65.2,170.4 L65.3,171.4 L65.5,172.4 L65.7,173.4 L65.8,174.4 L66.0,175.4 L66.1,176.4 L66.3,177.4 L66.4,178.3 L66.6,179.3 L66.7,180.3 L66.9,181.3 L67.1,182.3 L67.2,183.3 L67.4,184.3 L67.5,185.3 L67.7,186.3 L67.8,187.3 L68.0,188.3 L68.1,189.3 L68.3,190.2 L68.5,191.2 L68.6,192.2 L68.8,193.2 L68.9,194.2 L69.1,195.2 L69.3,196.2 L69.4,197.2 L69.6,198.2 L69.7,199.2 L69.9,200.1 L70.1,201.1 L70.2,202.1 L70.4,203.1 L70.6,204.1 L70.7,205.1 L70.9,206.1 L71.1,207.1 L71.3,208.1 L71.4,209.0 L71.6,210.0 L71.8,211.0 L72.0,212.0 L72.1,213.0 L72.3,214.0 L72.5,215.0 L72.7,215.9 L72.9,216.9 L73.0,217.9 L73.2,218.9 L73.4,219.9 L73.6,220.9 L73.8,221.8 L74.0,222.8 L74.2,223.8 L74.4,224.8 L74.6,225.8 L74.8,226.7 L75.0,227.7 L75.2,228.7 L75.4,229.7 L75.6,230.7 L75.8,231.6 L76.0,232.6 L76.3,233.6 L76.5,234.6 L76.7,235.5 L76.9,236.5 L77.2,237.5 L77.4,238.5 L77.6,239.4 L77.8,240.4 L78.1,241.4 L78.3,242.3 L78.6,243.3 L78.8,244.3 L79.0,245.2 L79.3,246.2 L79.5,247.2 L79.8,248.1 L80.0,249.1 L80.3,250.1 L80.6,251.0 L80.8,252.0 L81.1,253.0 L81.4,253.9 L81.6,254.9 L81.9,255.8 L82.2,256.8 L82.5,257.7 L82.8,258.7 L83.1,259.7 L83.4,260.6 L83.7,261.6 L84.0,262.5 L84.3,263.5 L84.6,264.4 L84.9,265.4 L85.2,266.3 L85.5,267.3 L85.8,268.2 L86.2,269.1 L86.5,270.1 L86.8,271.0 L87.2,272.0 L87.5,272.9 L87.8,273.8 L88.2,274.8 L88.5,275.7 L88.9,276.7 L89.3,277.6 L89.6,278.5 L90.0,279.5 L90.4,280.4 L90.7,281.3 L91.1,282.2 L91.5,283.2 L91.9,284.1 L92.3,285.0 L92.7,285.9 L93.1,286.9 L93.5,287.8 L93.9,288.7 L94.3,289.6 L94.7,290.5 L95.2,291.5 L95.6,292.4 L96.0,293.3 L96.5,294.2 L96.9,295.1 L97.4,296.0 L97.8,296.9 L98.3,297.8 L98.7,298.7 L99.2,299.6 L99.7,300.5 L100.2,301.4 L100.6,302.3 L101.1,303.2 L101.6,304.1 L102.1,305.0 L102.6,305.9 L103.2,306.8 L103.7,307.6 L104.2,308.5 L104.8,309.4 L105.3,310.2 L105.9,311.1 L106.4,311.9 L107.0,312.8 L107.6,313.6 L108.2,314.4 L108.8,315.2 L109.4,316.0 L110.1,316.8 L110.7,317.6 L111.4,318.3 L112.0,319.1 L112.7,319.8 L113.4,320.5 L114.1,321.2 L114.9,321.9 L115.6,322.6 L116.4,323.2 L117.1,323.8 L117.9,324.5 L118.7,325.1 L119.6,325.6 L120.4,326.2 L121.2,326.7 L122.1,327.3 L122.9,327.7 L123.8,328.2 L124.7,328.7 L125.6,329.1 L126.5,329.5 L127.4,329.9 L128.3,330.2 L129.2,330.5 L130.2,330.8 L131.1,331.1 L132.0,331.3 L133.0,331.5 L133.9,331.7 L134.9,331.8 L135.8,332.0 L136.8,332.0 L137.7,332.1 L138.7,332.1 L139.6,332.1 L140.6,332.1 L141.6,332.0 L142.5,331.9 L143.5,331.8 L144.4,331.7 L145.4,331.5 L146.4,331.3 L147.3,331.1 L148.3,330.9 L149.3,330.7 L150.2,330.4 L151.2,330.1 L152.2,329.8 L153.1,329.5 L154.1,329.2 L155.0,328.8 L156.0,328.5 L156.9,328.1 L157.9,327.7 L158.9,327.3 L159.8,326.9 L160.8,326.5 L161.7,326.0 L162.6,325.6 L163.6,325.1 L164.5,324.7 L165.5,324.2 L166.4,323.8 L167.3,323.3 L168.3,322.8 L169.2,322.3 L170.1,321.9 L171.0,321.4 L172.0,320.9 L172.9,320.4 L173.8,320.0 L174.7,319.5 L175.6,319.1 L176.6,318.6 L177.5,318.2 L178.4,317.7 L179.3,317.3 L180.3,316.9 L181.2,316.5 L182.1,316.1 L183.1,315.8 L184.0,315.4 L184.9,315.1 L185.9,314.8 L186.8,314.5 L187.8,314.2 L188.7,314.0 L189.7,313.7 L190.7,313.5 L191.6,313.4 L192.6,313.2 L193.6,313.1 L194.6,313.0 L195.6,312.9 L196.5,312.9 L197.5,312.8 L198.5,312.8 L199.5,312.9 L200.5,312.9 L201.4,313.0 L202.4,313.1 L203.4,313.3 L204.3,313.5 L205.3,313.7 L206.2,313.9 L207.1,314.2 L208.0,314.4 L208.9,314.8 L209.8,315.1 L210.7,315.5 L211.6,315.9 L212.5,316.3 L213.3,316.7 L214.2,317.2 L215.0,317.7 L215.9,318.2 L216.7,318.7 L217.5,319.2 L218.3,319.8 L219.1,320.4 L219.9,321.0 L220.7,321.6 L221.5,322.3 L222.3,322.9 L223.1,323.6 L223.9,324.2 L224.6,324.9 L225.4,325.6 L226.2,326.3 L226.9,327.1 L227.7,327.8 L228.4,328.5 L229.2,329.3 L229.9,330.0 L230.6,330.8 L231.4,331.5 L232.1,332.3 L232.8,333.1 L233.6,333.8 L234.3,334.6 L235.0,335.4 L235.8,336.1 L236.5,336.9 L237.2,337.7 L238.0,338.4 L238.7,339.2 L239.4,339.9 L240.2,340.7 L240.9,341.4 L241.6,342.1 L242.4,342.8 L243.1,343.5 L243.9,344.2 L244.6,344.9 L245.4,345.5 L246.2,346.1 L246.9,346.8 L247.7,347.3 L248.5,347.9 L249.3,348.5 L250.1,349.0 L250.9,349.5 L251.7,349.9 L252.5,350.4 L253.4,350.8 L254.2,351.1 L255.1,351.5 L255.9,351.8 L256.8,352.1 L257.7,352.3 L258.6,352.5 L259.5,352.7 L260.4,352.8 L261.4,352.9 L262.3,352.9 L263.2,353.0 L264.2,353.0 L265.1,352.9 L266.1,352.9 L267.1,352.8 L268.0,352.6 L269.0,352.5 L270.0,352.3 L270.9,352.1 L271.9,351.9 L272.9,351.7 L273.9,351.4 L274.8,351.1 L275.8,350.8 L276.8,350.5 L277.7,350.1 L278.7,349.7 L279.6,349.4 L280.5,349.0 L281.5,348.6 L282.4,348.1 L283.3,347.7 L284.2,347.2 L285.1,346.8 L286.0,346.3 L286.9,345.8 L287.8,345.3 L288.7,344.8 L289.6,344.3 L290.5,343.8 L291.3,343.2 L292.2,342.7 L293.1,342.1 L293.9,341.6 L294.8,341.0 L295.6,340.4 L296.5,339.8 L297.3,339.2 L298.1,338.6 L299.0,338.0 L299.8,337.4 L300.6,336.8 L301.5,336.2 L302.3,335.6 L303.1,335.0 L303.9,334.4 L304.8,333.8 L305.6,333.1 L306.4,332.5 L307.2,331.9 L308.1,331.3 L308.9,330.7 L309.7,330.1 L310.5,329.5 L311.3,328.9 L312.2,328.2 L313.0,327.6 L313.8,327.1 L314.6,326.5 L315.5,325.9 L316.3,325.3 L317.1,324.7 L318.0,324.2 L318.8,323.6 L319.6,323.1 L320.5,322.5 L321.3,322.0 L322.2,321.5 L323.0,321.0 L323.9,320.5 L324.7,320.0 L325.6,319.5 L326.5,319.0 L327.3,318.6 L328.2,318.1 L329.1,317.7 L330.0,317.3 L330.9,316.9 L331.8,316.5 L332.7,316.2 L333.6,315.8 L334.5,315.5" stroke="#7f7f7f" stroke-width="1.2" stroke-dasharray="3.6,3.0" stroke-opacity="0.55"/>
<path d="M84.5,249.0 L84.9,249.9 L85.2,250.9 L85.6,251.8 L85.9,252.8 L86.3,253.7 L86.6,254.7 L86.9,255.6 L87.3,256.6 L87.6,257.5 L87.9,258.5 L88.3,259.4 L88.6,260.4 L88.9,261.3 L89.2,262.3 L89.6,263.2 L89.9,264.2 L90.2,265.1 L90.5,266.1 L90.9,267.0 L91.2,268.0 L91.5,268.9 L91.9,269.9 L92.2,270.8 L92.5,271.7 L92.9,272.7 L93.2,273.6 L93.6,274.6 L93.9,275.5 L94.3,276.4 L94.7,277.4 L95.0,278.3 L95.4,279.2 L95.8,280.1 L96.2,281.1 L96.6,282.0 L97.0,282.9 L97.3,283.8 L97.8,284.7 L98.2,285.6 L98.6,286.5 L99.0,287.5 L99.4,288.4 L99.8,289.3 L100.3,290.2 L100.7,291.1 L101.1,292.0 L101.6,292.9 L102.0,293.8 L102.5,294.6 L102.9,295.5 L103.4,296.4 L103.8,297.3 L104.3,298.2 L104.8,299.1 L105.2,300.0 L105.7,300.9 L106.2,301.8 L106.7,302.6 L107.2,303.5 L107.7,304.4 L108.2,305.3 L108.7,306.1 L109.2,307.0 L109.7,307.8 L110.3,308.7 L110.9,309.5 L111.4,310.3 L112.1,311.1 L112.7,311.9 L113.3,312.7 L114.0,313.5 L114.7,314.2 L115.4,315.0 L116.1,315.7 L116.8,316.4 L117.6,317.1 L118.4,317.8 L119.1,318.4 L120.0,319.0 L120.8,319.7 L121.6,320.3 L122.4,320.8 L123.3,321.4 L124.2,321.9 L125.0,322.4 L125.9,322.9 L126.8,323.4 L127.7,323.9 L128.6,324.3 L129.6,324.7 L130.5,325.1 L131.4,325.4 L132.4,325.8 L133.3,326.1 L134.3,326.3 L135.2,326.6 L136.2,326.8 L137.2,327.0 L138.1,327.2 L139.1,327.3 L140.1,327.4 L141.1,327.5 L142.0,327.6 L143.0,327.6 L144.0,327.6 L144.9,327.6 L145.9,327.5 L146.9,327.4 L147.8,327.3 L148.8,327.2 L149.8,327.0 L150.7,326.8 L151.7,326.6 L152.7,326.4 L153.6,326.2 L154.6,325.9 L155.5,325.6 L156.5,325.3 L157.4,325.0 L158.4,324.7 L159.3,324.3 L160.3,324.0 L161.2,323.6 L162.2,323.2 L163.1,322.9 L164.1,322.5 L165.0,322.1 L165.9,321.6 L166.8,321.2 L167.8,320.8 L168.7,320.4 L169.6,319.9 L170.5,319.5 L171.4,319.1 L172.4,318.6 L173.3,318.2 L174.2,317.7 L175.1,317.2 L176.0,316.8 L176.9,316.3 L177.7,315.8 L178.6,315.4 L179.5,314.9 L180.4,314.4 L181.3,313.9 L182.2,313.4 L183.1,312.9 L183.9,312.4 L184.8,311.9 L185.7,311.4 L186.5,310.9 L187.4,310.4 L188.3,309.8 L189.1,309.3 L190.0,308.8 L190.8,308.3 L191.7,307.7 L192.6,307.2 L193.4,306.7 L194.2,306.1 L195.1,305.6 L195.9,305.0 L196.8,304.5 L197.6,303.9 L198.5,303.4 L199.3,302.8 L200.1,302.2 L201.0,301.7 L201.8,301.1 L202.6,300.5 L203.5,300.0 L204.3,299.4 L205.1,298.8 L205.9,298.2 L206.8,297.7 L207.6,297.1 L208.4,296.5 L209.2,295.9 L210.0,295.3 L210.9,294.7 L211.7,294.1 L212.5,293.5 L213.3,292.9 L214.1,292.4 L214.9,291.8 L215.7,291.2 L216.5,290.6 L217.4,289.9 L218.2,289.3 L219.0,288.7 L219.8,288.1 L220.6,287.5 L221.4,286.9 L222.2,286.3 L223.0,285.7 L223.8,285.1 L224.6,284.5 L225.4,283.9 L226.2,283.3 L227.0,282.6 L227.8,282.0 L228.6,281.4 L229.4,280.8 L230.2,280.2 L231.0,279.6 L231.8,278.9 L232.6,278.3 L233.4,277.7 L234.2,277.1 L235.0,276.5 L235.8,275.9 L236.6,275.3 L237.4,274.6 L238.2,274.0 L239.0,273.4 L239.8,272.8 L240.6,272.2 L241.3,271.6 L242.1,271.0 L242.9,270.3 L243.7,269.7 L244.5,269.1 L245.3,268.5 L246.1,267.9 L246.9,267.3 L247.7,266.7 L248.5,266.1 L249.3,265.5 L250.1,264.9 L251.0,264.3 L251.8,263.7 L252.6,263.1 L253.4,262.5 L254.2,261.9 L255.0,261.3 L255.8,260.7 L256.6,260.1 L257.4,259.5 L258.2,258.9 L259.0,258.3 L259.8,257.8 L260.7,257.2 L261.5,256.6 L262.3,256.0 L263.1,255.4 L263.9,254.9 L264.7,254.3 L265.6,253.7 L266.4,253.2 L267.2,252.6 L268.0,252.0 L268.9,251.5 L269.7,250.9 L270.5,250.4 L271.3,249.8 L272.2,249.3 L273.0,248.7 L273.9,248.2 L274.7,247.7 L275.5,247.1 L276.4,246.6 L277.2,246.1 L278.1,245.5 L278.9,245.0 L279.8,244.5 L280.6,244.0 L281.5,243.5 L282.3,243.0 L283.2,242.5 L284.0,242.0 L284.9,241.5 L285.8,241.0 L286.6,240.5 L287.5,240.0 L288.4,239.5 L289.2,239.0 L290.1,238.6 L291.0,238.1 L291.9,237.6 L292.8,237.2 L293.7,236.7 L294.5,236.3 L295.4,235.8 L296.3,235.4 L297.2,235.0 L298.1,234.5 L299.0,234.1 L299.9,233.7 L300.8,233.3 L301.8,232.8 L302.7,232.4 L303.6,232.0 L304.5,231.6 L305.4,231.3 L306.4,230.9 L307.3,230.5 L308.2,230.1 L309.2,229.7 L310.1,229.4 L311.0,229.0 L312.0,228.7 L312.9,228.3 L313.9,228.0 L314.8,227.6 L315.8,227.3 L316.8,227.0 L317.7,226.7 L318.7,226.4 L319.7,226.1 L320.6,225.8 L321.6,225.5 L322.6,225.2 L323.6,224.9 L324.6,224.6 L325.6,224.4 L326.6,224.1 L327.6,223.9 L328.6,223.6 L329.6,223.4 L330.6,223.1 L331.7,222.9 L332.7,222.7 L333.7,222.5 L334.7,222.3" stroke="#d62728" stroke-width="1.2" stroke-opacity="0.55"/>
<path d="M54.0,51.9 L54.2,52.9 L54.3,53.9 L54.4,54.9 L54.5,55.9 L54.6,56.9 L54.7,57.9 L54.8,58.9 L54.9,59.9 L55.0,60.9 L55.1,61.9 L55.3,62.9 L55.4,63.9 L55.5,64.9 L55.6,65.9 L55.7,66.9 L55.8,67.9 L55.9,68.9 L56.0,69.9 L56.1,70.9 L56.3,71.9 L56.4,72.9 L56.5,73.9 L56.6,74.9 L56.7,75.9 L56.8,76.9 L56.9,77.9 L57.0,78.9 L57.2,79.9 L57.3,80.9 L57.4,81.9 L57.5,82.9 L57.6,83.9 L57.7,84.9 L57.8,85.9 L58.0,86.9 L58.1,87.9 L58.2,88.9 L58.3,89.9 L58.4,90.9 L58.5,91.9 L58.7,92.9 L58.8,93.9 L58.9,94.9 L59.0,95.8 L59.1,96.8 L59.3,97.8 L59.4,98.8 L59.5,99.8 L59.6,100.8 L59.7,101.8 L59.9,102.8 L60.0,103.8 L60.1,104.8 L60.2,105.8 L60.3,106.8 L60.5,107.8 L60.6,108.8 L60.7,109.8 L60.8,110.8 L61.0,111.8 L61.1,112.7 L61.2,113.7 L61.3,114.7 L61.5,115.7 L61.6,116.7 L61.7,117.7 L61.8,118.7 L62.0,119.7 L62.1,120.7 L62.2,121.7 L62.4,122.7 L62.5,123.7 L62.6,124.6 L62.7,125.6 L62.9,126.6 L63.0,127.6 L63.1,128.6 L63.3,129.6 L63.4,130.6 L63.5,131.6 L63.7,132.6 L63.8,133.6 L63.9,134.6 L64.1,135.6 L64.2,136.5 L64.3,137.5 L64.5,138.5 L64.6,139.5 L64.7,140.5 L64.9,141.5 L65.0,142.5 L65.1,143.5 L65.3,144.5 L65.4,145.5 L65.6,146.4 L65.7,147.4 L65.8,148.4 L66.0,149.4 L66.1,150.4 L66.3,151.4 L66.4,152.4 L66.5,153.4 L66.7,154.4 L66.8,155.4 L67.0,156.3 L67.1,157.3 L67.3,158.3 L67.4,159.3 L67.6,160.3 L67.7,161.3 L67.9,162.3 L68.0,163.3 L68.2,164.3 L68.3,165.3 L68.5,166.2 L68.6,167.2 L68.8,168.2 L68.9,169.2 L69.1,170.2 L69.2,171.2 L69.4,172.2 L69.5,173.2 L69.7,174.2 L69.8,175.2 L70.0,176.2 L70.1,177.1 L70.3,178.1 L70.5,179.1 L70.6,180.1 L70.8,181.1 L70.9,182.1 L71.1,183.1 L71.2,184.1 L71.4,185.1 L71.6,186.1 L71.7,187.1 L71.9,188.0 L72.1,189.0 L72.2,190.0 L72.4,191.0 L72.6,192.0 L72.7,193.0 L72.9,194.0 L73.1,195.0 L73.2,196.0 L73.4,197.0 L73.6,198.0 L73.7,199.0 L73.9,200.0 L74.1,200.9 L74.3,201.9 L74.4,202.9 L74.6,203.9 L74.8,204.9 L75.0,205.9 L75.1,206.9 L75.3,207.9 L75.5,208.9 L75.7,209.9 L75.9,210.9 L76.1,211.8 L76.3,212.8 L76.5,213.8 L76.6,214.8 L76.8,215.8 L77.0,216.8 L77.2,217.8 L77.4,218.8 L77.6,219.7 L77.8,220.7 L78.0,221.7 L78.3,222.7 L78.5,223.7 L78.7,224.7 L78.9,225.7 L79.1,226.6 L79.3,227.6 L79.5,228.6 L79.8,229.6 L80.0,230.6 L80.2,231.5 L80.4,232.5 L80.7,233.5 L80.9,234.5 L81.1,235.5 L81.4,236.4 L81.6,237.4 L81.9,238.4 L82.1,239.4 L82.4,240.3 L82.6,241.3 L82.9,242.3 L83.1,243.2 L83.4,244.2 L83.6,245.2 L83.9,246.1 L84.2,247.1 L84.5,248.1 L84.7,249.0 L85.0,250.0 L85.3,251.0 L85.6,251.9 L85.9,252.9 L86.2,253.9 L86.4,254.8 L86.7,255.8 L87.0,256.7 L87.3,257.7 L87.7,258.6 L88.0,259.6 L88.3,260.5 L88.6,261.5 L88.9,262.4 L89.2,263.4 L89.6,264.3 L89.9,265.3 L90.2,266.2 L90.6,267.2 L90.9,268.1 L91.3,269.0 L91.6,270.0 L92.0,270.9 L92.3,271.8 L92.7,272.8 L93.1,273.7 L93.4,274.6 L93.8,275.6 L94.2,276.5 L94.6,277.4 L95.0,278.3 L95.4,279.3 L95.8,280.2 L96.2,281.1 L96.6,282.0 L97.0,282.9 L97.4,283.9 L97.8,284.8 L98.2,285.7 L98.7,286.6 L99.1,287.5 L99.5,288.4 L100.0,289.3 L100.4,290.2 L100.9,291.1 L101.3,292.0 L101.8,292.9 L102.3,293.8 L102.7,294.7 L103.2,295.6 L103.7,296.5 L104.2,297.4 L104.7,298.2 L105.2,299.1 L105.7,300.0 L106.2,300.9 L106.7,301.8 L107.2,302.6 L107.7,303.5 L108.3,304.4 L108.8,305.2 L109.4,306.1 L109.9,306.9 L110.5,307.8 L111.1,308.6 L111.6,309.4 L112.2,310.2 L112.8,311.0 L113.4,311.8 L114.1,312.6 L114.7,313.3 L115.3,314.1 L116.0,314.8 L116.6,315.5 L117.3,316.2 L118.0,316.9 L118.7,317.6 L119.4,318.2 L120.2,318.9 L120.9,319.5 L121.7,320.1 L122.5,320.6 L123.3,321.2 L124.1,321.7 L124.9,322.2 L125.7,322.7 L126.6,323.1 L127.4,323.6 L128.3,324.0 L129.2,324.4 L130.0,324.7 L130.9,325.1 L131.9,325.4 L132.8,325.7 L133.7,326.0 L134.6,326.2 L135.6,326.5 L136.5,326.7 L137.5,326.8 L138.4,327.0 L139.4,327.2 L140.4,327.3 L141.4,327.4 L142.4,327.4 L143.4,327.5 L144.3,327.5 L145.3,327.5 L146.3,327.5 L147.3,327.4 L148.4,327.4 L149.4,327.3 L150.4,327.2 L151.4,327.1 L152.4,326.9 L153.4,326.8 L154.4,326.6 L155.4,326.4 L156.4,326.2 L157.4,326.0 L158.4,325.7 L159.4,325.5 L160.4,325.2 L161.4,324.9 L162.4,324.6 L163.4,324.3 L164.4,324.0 L165.3,323.6 L166.3,323.3 L167.3,322.9 L168.2,322.5 L169.2,322.2 L170.1,321.8 L171.0,321.4 L172.0,320.9 L172.9,320.5 L173.8,320.1 L174.7,319.7 L175.6,319.2 L176.5,318.8 L177.4,318.3 L178.3,317.8 L179.2,317.3 L180.1,316.9 L180.9,316.4 L181.8,315.9 L182.7,315.4 L183.6,314.9 L184.4,314.3 L185.3,313.8 L186.1,313.3 L187.0,312.8 L187.8,312.2 L188.7,311.7 L189.5,311.2 L190.4,310.6 L191.2,310.1 L192.1,309.5 L192.9,309.0 L193.7,308.4 L194.6,307.9 L195.4,307.3 L196.2,306.7 L197.1,306.2 L197.9,305.6 L198.7,305.0 L199.6,304.5 L200.4,303.9 L201.2,303.3 L202.1,302.7 L202.9,302.2 L203.7,301.6 L204.5,301.0 L205.3,300.4 L206.2,299.8 L207.0,299.2 L207.8,298.7 L208.6,298.1 L209.4,297.5 L210.3,296.9 L211.1,296.3 L211.9,295.7 L212.7,295.1 L213.5,294.5 L214.3,293.9 L215.1,293.3 L216.0,292.7 L216.8,292.1 L217.6,291.5 L218.4,290.9 L219.2,290.3 L220.0,289.7 L220.8,289.1 L221.6,288.5 L222.4,287.9 L223.3,287.3 L224.1,286.7 L224.9,286.1 L225.7,285.5 L226.5,284.9 L227.3,284.3 L228.1,283.7 L228.9,283.1 L229.7,282.4 L230.5,281.8 L231.4,281.2 L232.2,280.6 L233.0,280.0 L233.8,279.4 L234.6,278.8 L235.4,278.2 L236.2,277.6 L237.0,277.1 L237.8,276.5 L238.7,275.9 L239.5,275.3 L240.3,274.7 L241.1,274.1 L241.9,273.5 L242.7,272.9 L243.5,272.3 L244.4,271.7 L245.2,271.2 L246.0,270.6 L246.8,270.0 L247.6,269.4 L248.5,268.9 L249.3,268.3 L250.1,267.7 L250.9,267.2 L251.8,266.6 L252.6,266.0 L253.4,265.5 L254.2,264.9 L255.1,264.3 L255.9,263.8 L256.7,263.2 L257.6,262.7 L258.4,262.2 L259.2,261.6 L260.1,261.1 L260.9,260.5 L261.8,260.0 L262.6,259.5 L263.4,259.0 L264.3,258.4 L265.1,257.9 L266.0,257.4 L266.8,256.9 L267.7,256.4 L268.5,255.9 L269.4,255.4 L270.3,254.9 L271.1,254.4 L272.0,253.9 L272.8,253.4 L273.7,252.9 L274.6,252.5 L275.4,252.0 L276.3,251.5 L277.2,251.1 L278.1,250.6 L278.9,250.1 L279.8,249.7 L280.7,249.3 L281.6,248.8 L282.5,248.4 L283.4,247.9 L284.2,247.5 L285.1,247.1 L286.0,246.7 L286.9,246.3 L287.8,245.9 L288.7,245.5 L289.6,245.1 L290.6,244.7 L291.5,244.3 L292.4,243.9 L293.3,243.6 L294.2,243.2 L295.1,242.8 L296.1,242.5 L297.0,242.1 L297.9,241.8 L298.9,241.5 L299.8,241.1 L300.7,240.8 L301.7,240.5 L302.6,240.2 L303.6,239.9 L304.5,239.6 L305.5,239.3 L306.5,239.0 L307.4,238.7 L308.4,238.5 L309.3,238.2 L310.3,237.9 L311.3,237.7 L312.3,237.4 L313.3,237.2 L314.2,237.0 L315.2,236.8 L316.2,236.5 L317.2,236.3 L318.2,236.1 L319.2,235.9 L320.2,235.8 L321.3,235.6 L322.3,235.4 L323.3,235.3 L324.3,235.1 L325.3,235.0 L326.4,234.8 L327.4,234.7 L328.5,234.6 L329.5,234.5 L330.5,234.4 L331.6,234.3 L332.7,234.2 L333.7,234.1 L334.8,234.0" stroke="#e377c2" stroke-width="1.2" stroke-opacity="0.55"/>
<path d="M53.8,44.0 L53.9,45.0 L54.0,46.0 L54.0,47.0 L54.1,48.0 L54.2,49.0 L54.3,50.0 L54.4,51.0 L54.5,52.0 L54.6,53.0 L54.7,54.0 L54.8,55.0 L54.8,56.0 L54.9,57.0 L55.0,58.0 L55.1,59.0 L55.2,60.0 L55.3,61.0 L55.4,62.0 L55.5,63.0 L55.6,64.0 L55.7,65.0 L55.8,65.9 L55.9,66.9 L56.0,67.9 L56.1,68.9 L56.2,69.9 L56.3,70.9 L56.4,71.9 L56.5,72.9 L56.6,73.9 L56.8,74.9 L56.9,75.9 L57.0,76.9 L57.1,77.9 L57.2,78.9 L57.3,79.9 L57.4,80.9 L57.5,81.9 L57.6,82.9 L57.8,83.9 L57.9,84.9 L58.0,85.9 L58.1,86.9 L58.2,87.9 L58.3,88.9 L58.5,89.9 L58.6,90.9 L58.7,91.9 L58.8,92.8 L58.9,93.8 L59.1,94.8 L59.2,95.8 L59.3,96.8 L59.4,97.8 L59.6,98.8 L59.7,99.8 L59.8,100.8 L59.9,101.8 L60.1,102.8 L60.2,103.8 L60.3,104.8 L60.5,105.8 L60.6,106.8 L60.7,107.8 L60.9,108.8 L61.0,109.8 L61.1,110.7 L61.3,111.7 L61.4,112.7 L61.5,113.7 L61.7,114.7 L61.8,115.7 L61.9,116.7 L62.1,117.7 L62.2,118.7 L62.4,119.7 L62.5,120.7 L62.7,121.7 L62.8,122.7 L62.9,123.7 L63.1,124.6 L63.2,125.6 L63.4,126.6 L63.5,127.6 L63.7,128.6 L63.8,129.6 L64.0,130.6 L64.1,131.6 L64.3,132.6 L64.4,133.6 L64.6,134.6 L64.7,135.6 L64.9,136.5 L65.0,137.5 L65.2,138.5 L65.3,139.5 L65.5,140.5 L65.7,141.5 L65.8,142.5 L66.0,143.5 L66.1,144.5 L66.3,145.5 L66.4,146.4 L66.6,147.4 L66.8,148.4 L66.9,149.4 L67.1,150.4 L67.3,151.4 L67.4,152.4 L67.6,153.4 L67.7,154.4 L67.9,155.3 L68.1,156.3 L68.2,157.3 L68.4,158.3 L68.6,159.3 L68.8,160.3 L68.9,161.3 L69.1,162.3 L69.3,163.2 L69.4,164.2 L69.6,165.2 L69.8,166.2 L70.0,167.2 L70.1,168.2 L70.3,169.2 L70.5,170.2 L70.7,171.1 L70.8,172.1 L71.0,173.1 L71.2,174.1 L71.4,175.1 L71.6,176.1 L71.7,177.1 L71.9,178.0 L72.1,179.0 L72.3,180.0 L72.5,181.0 L72.7,182.0 L72.8,183.0 L73.0,184.0 L73.2,184.9 L73.4,185.9 L73.6,186.9 L73.8,187.9 L74.0,188.9 L74.1,189.9 L74.3,190.8 L74.5,191.8 L74.7,192.8 L74.9,193.8 L75.1,194.8 L75.3,195.8 L75.5,196.7 L75.7,197.7 L75.9,198.7 L76.1,199.7 L76.3,200.7 L76.5,201.7 L76.7,202.6 L76.9,203.6 L77.1,204.6 L77.3,205.6 L77.5,206.6 L77.7,207.5 L77.9,208.5 L78.1,209.5 L78.3,210.5 L78.5,211.5 L78.7,212.4 L78.9,213.4 L79.1,214.4 L79.3,215.4 L79.5,216.4 L79.7,217.3 L79.9,218.3 L80.1,219.3 L80.3,220.3 L80.6,221.3 L80.8,222.2 L81.0,223.2 L81.2,224.2 L81.4,225.2 L81.6,226.1 L81.9,227.1 L82.1,228.1 L82.3,229.1 L82.6,230.0 L82.8,231.0 L83.0,232.0 L83.3,232.9 L83.5,233.9 L83.7,234.9 L84.0,235.9 L84.2,236.8 L84.5,237.8 L84.7,238.8 L85.0,239.7 L85.2,240.7 L85.5,241.7 L85.8,242.6 L86.0,243.6 L86.3,244.5 L86.6,245.5 L86.8,246.5 L87.1,247.4 L87.4,248.4 L87.7,249.3 L88.0,250.3 L88.3,251.3 L88.6,252.2 L88.9,253.2 L89.2,254.1 L89.5,255.1 L89.8,256.0 L90.1,257.0 L90.4,257.9 L90.7,258.9 L91.1,259.8 L91.4,260.8 L91.7,261.7 L92.1,262.6 L92.4,263.6 L92.8,264.5 L93.1,265.5 L93.5,266.4 L93.8,267.3 L94.2,268.3 L94.6,269.2 L94.9,270.1 L95.3,271.1 L95.7,272.0 L96.1,272.9 L96.5,273.9 L96.9,274.8 L97.3,275.7 L97.7,276.6 L98.1,277.5 L98.5,278.5 L99.0,279.4 L99.4,280.3 L99.8,281.2 L100.3,282.1 L100.7,283.0 L101.2,283.9 L101.7,284.9 L102.1,285.8 L102.6,286.7 L103.1,287.6 L103.6,288.5 L104.1,289.4 L104.6,290.3 L105.1,291.2 L105.6,292.1 L106.1,293.0 L106.6,293.8 L107.1,294.7 L107.7,295.6 L108.2,296.5 L108.8,297.3 L109.4,298.2 L109.9,299.1 L110.5,299.9 L111.1,300.7 L111.7,301.6 L112.3,302.4 L112.9,303.2 L113.5,304.0 L114.2,304.8 L114.8,305.5 L115.5,306.3 L116.1,307.0 L116.8,307.8 L117.5,308.5 L118.2,309.2 L118.9,309.8 L119.6,310.5 L120.4,311.2 L121.1,311.8 L121.9,312.4 L122.6,313.0 L123.4,313.6 L124.2,314.1 L125.0,314.6 L125.8,315.1 L126.7,315.6 L127.5,316.1 L128.4,316.5 L129.3,316.9 L130.2,317.3 L131.1,317.7 L132.0,318.0 L132.9,318.3 L133.8,318.6 L134.8,318.9 L135.7,319.1 L136.7,319.4 L137.7,319.6 L138.6,319.7 L139.6,319.9 L140.6,320.0 L141.6,320.1 L142.6,320.2 L143.6,320.3 L144.6,320.4 L145.6,320.4 L146.6,320.4 L147.6,320.4 L148.5,320.4 L149.5,320.3 L150.5,320.3 L151.5,320.2 L152.5,320.1 L153.5,320.0 L154.4,319.8 L155.4,319.7 L156.4,319.5 L157.3,319.3 L158.3,319.1 L159.2,318.9 L160.2,318.7 L161.1,318.5 L162.1,318.2 L163.0,317.9 L164.0,317.6 L164.9,317.3 L165.8,317.0 L166.8,316.7 L167.7,316.3 L168.6,316.0 L169.5,315.6 L170.5,315.2 L171.4,314.8 L172.3,314.4 L173.2,314.0 L174.1,313.6 L175.0,313.1 L175.9,312.7 L176.8,312.2 L177.7,311.8 L178.6,311.3 L179.5,310.8 L180.4,310.3 L181.2,309.8 L182.1,309.3 L183.0,308.8 L183.9,308.2 L184.8,307.7 L185.6,307.2 L186.5,306.6 L187.4,306.1 L188.2,305.5 L189.1,304.9 L189.9,304.4 L190.8,303.8 L191.6,303.2 L192.5,302.6 L193.3,302.1 L194.2,301.5 L195.0,300.9 L195.9,300.3 L196.7,299.7 L197.5,299.1 L198.4,298.5 L199.2,297.9 L200.0,297.2 L200.9,296.6 L201.7,296.0 L202.5,295.4 L203.3,294.8 L204.1,294.2 L205.0,293.6 L205.8,292.9 L206.6,292.3 L207.4,291.7 L208.2,291.1 L209.0,290.5 L209.8,289.8 L210.6,289.2 L211.4,288.6 L212.2,288.0 L213.0,287.3 L213.8,286.7 L214.6,286.1 L215.4,285.5 L216.2,284.8 L217.0,284.2 L217.7,283.6 L218.5,282.9 L219.3,282.3 L220.1,281.6 L220.9,281.0 L221.7,280.4 L222.4,279.7 L223.2,279.1 L224.0,278.4 L224.8,277.8 L225.5,277.2 L226.3,276.5 L227.1,275.9 L227.8,275.2 L228.6,274.6 L229.4,273.9 L230.1,273.3 L230.9,272.6 L231.6,272.0 L232.4,271.3 L233.2,270.7 L233.9,270.0 L234.7,269.4 L235.4,268.7 L236.2,268.1 L236.9,267.4 L237.7,266.8 L238.4,266.1 L239.2,265.5 L239.9,264.8 L240.7,264.1 L241.4,263.5 L242.2,262.8 L242.9,262.2 L243.7,261.5 L244.4,260.9 L245.2,260.2 L245.9,259.5 L246.6,258.9 L247.4,258.2 L248.1,257.5 L248.9,256.9 L249.6,256.2 L250.3,255.6 L251.1,254.9 L251.8,254.2 L252.5,253.6 L253.3,252.9 L254.0,252.2 L254.7,251.6 L255.5,250.9 L256.2,250.2 L256.9,249.6 L257.7,248.9 L258.4,248.2 L259.1,247.6 L259.9,246.9 L260.6,246.2 L261.3,245.6 L262.1,244.9 L262.8,244.2 L263.5,243.5 L264.3,242.9 L265.0,242.2 L265.7,241.5 L266.4,240.9 L267.2,240.2 L267.9,239.5 L268.6,238.9 L269.4,238.2 L270.1,237.5 L270.8,236.8 L271.6,236.2 L272.3,235.5 L273.0,234.8 L273.7,234.2 L274.5,233.5 L275.2,232.8 L275.9,232.1 L276.7,231.5 L277.4,230.8 L278.1,230.1 L278.9,229.5 L279.6,228.8 L280.3,228.1 L281.1,227.5 L281.8,226.8 L282.5,226.1 L283.3,225.4 L284.0,224.8 L284.7,224.1 L285.5,223.4 L286.2,222.8 L286.9,222.1 L287.7,221.4 L288.4,220.8 L289.2,220.1 L289.9,219.4 L290.6,218.8 L291.4,218.1 L292.1,217.4 L292.9,216.8 L293.6,216.1 L294.3,215.4 L295.1,214.8 L295.8,214.1 L296.6,213.4 L297.3,212.8 L298.1,212.1 L298.8,211.4 L299.6,210.8 L300.3,210.1 L301.1,209.5 L301.8,208.8 L302.6,208.1 L303.3,207.5 L304.1,206.8 L304.9,206.2 L305.6,205.5 L306.4,204.8 L307.1,204.2 L307.9,203.5 L308.7,202.9 L309.4,202.2 L310.2,201.6 L311.0,200.9 L311.7,200.3 L312.5,199.6 L313.3,198.9 L314.0,198.3 L314.8,197.6 L315.6,197.0 L316.4,196.3 L317.2,195.7 L317.9,195.0 L318.7,194.4 L319.5,193.8 L320.3,193.1 L321.1,192.5 L321.9,191.8 L322.7,191.2 L323.4,190.5 L324.2,189.9 L325.0,189.3 L325.8,188.6 L326.6,188.0 L327.4,187.3 L328.2,186.7 L329.0,186.1 L329.8,185.4 L330.7,184.8 L331.5,184.2 L332.3,183.5 L333.1,182.9 L333.9,182.3 L334.7,181.6" stroke="#2ca02c" stroke-width="1.2" stroke-dasharray="3.7,2.9" stroke-opacity="0.55"/>
<path d="M53.8,44.0 L53.9,45.0 L53.9,46.0 L54.0,47.0 L54.1,48.0 L54.2,49.0 L54.3,50.0 L54.4,51.0 L54.5,52.0 L54.6,53.0 L54.7,54.0 L54.8,55.0 L54.9,56.0 L55.0,57.0 L55.0,57.9 L55.1,58.9 L55.2,59.9 L55.3,60.9 L55.4,61.9 L55.5,62.9 L55.6,63.9 L55.7,64.9 L55.8,65.9 L55.9,66.9 L56.0,67.9 L56.1,68.9 L56.2,69.9 L56.4,70.9 L56.5,71.9 L56.6,72.9 L56.7,73.9 L56.8,74.9 L56.9,75.9 L57.0,76.9 L57.1,77.9 L57.2,78.9 L57.3,79.9 L57.4,80.9 L57.6,81.9 L57.7,82.8 L57.8,83.8 L57.9,84.8 L58.0,85.8 L58.1,86.8 L58.2,87.8 L58.4,88.8 L58.5,89.8 L58.6,90.8 L58.7,91.8 L58.8,92.8 L59.0,93.8 L59.1,94.8 L59.2,95.8 L59.3,96.8 L59.5,97.8 L59.6,98.8 L59.7,99.8 L59.8,100.8 L60.0,101.8 L60.1,102.8 L60.2,103.8 L60.4,104.8 L60.5,105.7 L60.6,106.7 L60.7,107.7 L60.9,108.7 L61.0,109.7 L61.1,110.7 L61.3,111.7 L61.4,112.7 L61.5,113.7 L61.7,114.7 L61.8,115.7 L62.0,116.7 L62.1,117.7 L62.2,118.7 L62.4,119.7 L62.5,120.7 L62.7,121.7 L62.8,122.7 L62.9,123.6 L63.1,124.6 L63.2,125.6 L63.4,126.6 L63.5,127.6 L63.7,128.6 L63.8,129.6 L64.0,130.6 L64.1,131.6 L64.3,132.6 L64.4,133.6 L64.6,134.6 L64.7,135.6 L64.9,136.6 L65.0,137.5 L65.2,138.5 L65.3,139.5 L65.5,140.5 L65.6,141.5 L65.8,142.5 L66.0,143.5 L66.1,144.5 L66.3,145.5 L66.4,146.5 L66.6,147.5 L66.7,148.5 L66.9,149.4 L67.1,150.4 L67.2,151.4 L67.4,152.4 L67.6,153.4 L67.7,154.4 L67.9,155.4 L68.1,156.4 L68.2,157.4 L68.4,158.4 L68.6,159.3 L68.7,160.3 L68.9,161.3 L69.1,162.3 L69.2,163.3 L69.4,164.3 L69.6,165.3 L69.8,166.3 L69.9,167.3 L70.1,168.2 L70.3,169.2 L70.5,170.2 L70.6,171.2 L70.8,172.2 L71.0,173.2 L71.2,174.2 L71.3,175.1 L71.5,176.1 L71.7,177.1 L71.9,178.1 L72.1,179.1 L72.2,180.1 L72.4,181.1 L72.6,182.0 L72.8,183.0 L73.0,184.0 L73.2,185.0 L73.4,186.0 L73.5,187.0 L73.7,187.9 L73.9,188.9 L74.1,189.9 L74.3,190.9 L74.5,191.9 L74.7,192.9 L74.9,193.8 L75.1,194.8 L75.3,195.8 L75.5,196.8 L75.6,197.8 L75.8,198.7 L76.0,199.7 L76.2,200.7 L76.4,201.7 L76.6,202.7 L76.8,203.7 L77.0,204.6 L77.2,205.6 L77.4,206.6 L77.6,207.6 L77.8,208.5 L78.0,209.5 L78.2,210.5 L78.4,211.5 L78.7,212.5 L78.9,213.4 L79.1,214.4 L79.3,215.4 L79.5,216.4 L79.7,217.3 L79.9,218.3 L80.1,219.3 L80.3,220.3 L80.6,221.2 L80.8,222.2 L81.0,223.2 L81.2,224.2 L81.4,225.1 L81.7,226.1 L81.9,227.1 L82.1,228.0 L82.3,229.0 L82.6,230.0 L82.8,230.9 L83.1,231.9 L83.3,232.9 L83.5,233.8 L83.8,234.8 L84.0,235.8 L84.3,236.7 L84.5,237.7 L84.8,238.7 L85.0,239.6 L85.3,240.6 L85.6,241.6 L85.8,242.5 L86.1,243.5 L86.4,244.4 L86.6,245.4 L86.9,246.4 L87.2,247.3 L87.5,248.3 L87.8,249.2 L88.0,250.2 L88.3,251.1 L88.6,252.1 L88.9,253.0 L89.2,254.0 L89.6,254.9 L89.9,255.9 L90.2,256.8 L90.5,257.8 L90.8,258.7 L91.1,259.7 L91.5,260.6 L91.8,261.6 L92.2,262.5 L92.5,263.4 L92.8,264.4 L93.2,265.3 L93.6,266.3 L93.9,267.2 L94.3,268.1 L94.7,269.1 L95.0,270.0 L95.4,270.9 L95.8,271.9 L96.2,272.8 L96.6,273.7 L97.0,274.7 L97.4,275.6 L97.8,276.5 L98.2,277.4 L98.6,278.4 L99.1,279.3 L99.5,280.2 L99.9,281.1 L100.4,282.0 L100.8,283.0 L101.3,283.9 L101.7,284.8 L102.2,285.7 L102.7,286.6 L103.2,287.5 L103.6,288.4 L104.1,289.3 L104.6,290.2 L105.1,291.1 L105.6,292.1 L106.1,293.0 L106.7,293.8 L107.2,294.7 L107.7,295.6 L108.3,296.5 L108.8,297.4 L109.4,298.3 L110.0,299.1 L110.5,300.0 L111.1,300.8 L111.7,301.6 L112.3,302.5 L112.9,303.3 L113.5,304.1 L114.2,304.9 L114.8,305.7 L115.5,306.4 L116.1,307.2 L116.8,307.9 L117.5,308.6 L118.2,309.3 L118.9,310.0 L119.6,310.7 L120.3,311.3 L121.1,311.9 L121.8,312.6 L122.6,313.1 L123.3,313.7 L124.1,314.3 L124.9,314.8 L125.7,315.3 L126.6,315.8 L127.4,316.2 L128.3,316.6 L129.1,317.0 L130.0,317.4 L130.9,317.8 L131.8,318.1 L132.8,318.4 L133.7,318.7 L134.6,318.9 L135.6,319.1 L136.5,319.4 L137.5,319.5 L138.5,319.7 L139.4,319.8 L140.4,320.0 L141.4,320.1 L142.4,320.1 L143.4,320.2 L144.4,320.2 L145.4,320.3 L146.4,320.3 L147.4,320.2 L148.4,320.2 L149.4,320.2 L150.4,320.1 L151.4,320.0 L152.3,319.9 L153.3,319.8 L154.3,319.6 L155.3,319.5 L156.3,319.3 L157.2,319.1 L158.2,318.9 L159.2,318.7 L160.2,318.5 L161.1,318.3 L162.1,318.0 L163.1,317.7 L164.0,317.5 L165.0,317.2 L165.9,316.9 L166.9,316.5 L167.8,316.2 L168.8,315.9 L169.7,315.5 L170.6,315.1 L171.6,314.8 L172.5,314.4 L173.4,314.0 L174.4,313.6 L175.3,313.1 L176.2,312.7 L177.1,312.3 L178.0,311.8 L179.0,311.4 L179.9,310.9 L180.8,310.4 L181.7,309.9 L182.6,309.4 L183.5,308.9 L184.4,308.4 L185.2,307.9 L186.1,307.4 L187.0,306.8 L187.9,306.3 L188.8,305.7 L189.6,305.2 L190.5,304.6 L191.4,304.1 L192.2,303.5 L193.1,302.9 L193.9,302.4 L194.8,301.8 L195.6,301.2 L196.5,300.6 L197.3,300.0 L198.2,299.4 L199.0,298.8 L199.8,298.2 L200.6,297.6 L201.5,297.0 L202.3,296.4 L203.1,295.8 L203.9,295.1 L204.7,294.5 L205.5,293.9 L206.3,293.3 L207.1,292.6 L207.9,292.0 L208.7,291.4 L209.5,290.8 L210.3,290.1 L211.1,289.5 L211.8,288.8 L212.6,288.2 L213.4,287.6 L214.2,286.9 L214.9,286.3 L215.7,285.6 L216.5,285.0 L217.2,284.3 L218.0,283.7 L218.7,283.0 L219.5,282.4 L220.2,281.7 L221.0,281.1 L221.7,280.4 L222.5,279.8 L223.2,279.1 L224.0,278.4 L224.7,277.8 L225.5,277.1 L226.2,276.5 L226.9,275.8 L227.7,275.1 L228.4,274.5 L229.1,273.8 L229.9,273.1 L230.6,272.5 L231.3,271.8 L232.1,271.1 L232.8,270.5 L233.5,269.8 L234.3,269.1 L235.0,268.5 L235.7,267.8 L236.4,267.1 L237.2,266.4 L237.9,265.8 L238.6,265.1 L239.4,264.4 L240.1,263.8 L240.8,263.1 L241.5,262.4 L242.3,261.8 L243.0,261.1 L243.7,260.4 L244.4,259.8 L245.2,259.1 L245.9,258.4 L246.6,257.8 L247.4,257.1 L248.1,256.4 L248.8,255.8 L249.6,255.1 L250.3,254.4 L251.0,253.8 L251.8,253.1 L252.5,252.5 L253.2,251.8 L254.0,251.1 L254.7,250.5 L255.5,249.8 L256.2,249.2 L257.0,248.5 L257.7,247.9 L258.5,247.2 L259.2,246.6 L260.0,245.9 L260.7,245.3 L261.5,244.6 L262.2,244.0 L263.0,243.4 L263.8,242.7 L264.5,242.1 L265.3,241.5 L266.1,240.8 L266.8,240.2 L267.6,239.6 L268.4,238.9 L269.2,238.3 L270.0,237.7 L270.7,237.1 L271.5,236.4 L272.3,235.8 L273.1,235.2 L273.9,234.6 L274.7,234.0 L275.5,233.4 L276.3,232.8 L277.1,232.2 L277.9,231.5 L278.7,230.9 L279.5,230.3 L280.3,229.7 L281.1,229.1 L282.0,228.5 L282.8,227.9 L283.6,227.3 L284.4,226.7 L285.2,226.1 L286.0,225.6 L286.9,225.0 L287.7,224.4 L288.5,223.8 L289.3,223.2 L290.1,222.6 L291.0,222.0 L291.8,221.4 L292.6,220.8 L293.4,220.3 L294.3,219.7 L295.1,219.1 L295.9,218.5 L296.8,217.9 L297.6,217.3 L298.4,216.8 L299.2,216.2 L300.1,215.6 L300.9,215.0 L301.7,214.5 L302.6,213.9 L303.4,213.3 L304.2,212.7 L305.1,212.2 L305.9,211.6 L306.7,211.0 L307.6,210.4 L308.4,209.9 L309.2,209.3 L310.0,208.7 L310.9,208.1 L311.7,207.6 L312.5,207.0 L313.4,206.4 L314.2,205.9 L315.0,205.3 L315.8,204.7 L316.7,204.1 L317.5,203.6 L318.3,203.0 L319.1,202.4 L320.0,201.9 L320.8,201.3 L321.6,200.7 L322.4,200.1 L323.2,199.6 L324.0,199.0 L324.9,198.4 L325.7,197.9 L326.5,197.3 L327.3,196.7 L328.1,196.1 L328.9,195.6 L329.7,195.0 L330.5,194.4 L331.3,193.8 L332.1,193.3 L332.9,192.7 L333.7,192.1 L334.5,191.5" stroke="#7f7f7f" stroke-width="1.2" stroke-dasharray="3.5,4.7" stroke-opacity="0.55"/>
<path d="M54.1,7.6 L54.2,8.6 L54.3,9.6 L54.4,10.6 L54.5,11.6 L54.6,12.6 L54.7,13.6 L54.8,14.6 L55.0,15.6 L55.1,16.5 L55.2,17.5 L55.3,18.5 L55.4,19.5 L55.5,20.5 L55.6,21.5 L55.7,22.5 L55.8,23.5 L55.9,24.5 L56.0,25.5 L56.2,26.5 L56.3,27.5 L56.4,28.5 L56.5,29.5 L56.6,30.5 L56.7,31.5 L56.8,32.4 L56.9,33.4 L57.0,34.4 L57.1,35.4 L57.2,36.4 L57.3,37.4 L57.5,38.4 L57.6,39.4 L57.7,40.4 L57.8,41.4 L57.9,42.4 L58.0,43.4 L58.1,44.4 L58.2,45.4 L58.3,46.4 L58.4,47.4 L58.5,48.4 L58.7,49.4 L58.8,50.4 L58.9,51.4 L59.0,52.4 L59.1,53.4 L59.2,54.4 L59.3,55.4 L59.4,56.4 L59.5,57.4 L59.6,58.4 L59.8,59.4 L59.9,60.4 L60.0,61.4 L60.1,62.4 L60.2,63.4 L60.3,64.3 L60.4,65.3 L60.5,66.3 L60.7,67.3 L60.8,68.3 L60.9,69.3 L61.0,70.3 L61.1,71.3 L61.2,72.3 L61.3,73.3 L61.5,74.3 L61.6,75.3 L61.7,76.3 L61.8,77.3 L61.9,78.3 L62.0,79.3 L62.2,80.3 L62.3,81.3 L62.4,82.3 L62.5,83.3 L62.6,84.3 L62.8,85.3 L62.9,86.3 L63.0,87.3 L63.1,88.3 L63.2,89.3 L63.4,90.3 L63.5,91.3 L63.6,92.3 L63.7,93.3 L63.9,94.3 L64.0,95.3 L64.1,96.3 L64.2,97.3 L64.4,98.3 L64.5,99.3 L64.6,100.3 L64.8,101.3 L64.9,102.3 L65.0,103.3 L65.1,104.3 L65.3,105.3 L65.4,106.3 L65.5,107.2 L65.7,108.2 L65.8,109.2 L65.9,110.2 L66.1,111.2 L66.2,112.2 L66.3,113.2 L66.5,114.2 L66.6,115.2 L66.8,116.2 L66.9,117.2 L67.0,118.2 L67.2,119.2 L67.3,120.2 L67.5,121.2 L67.6,122.2 L67.8,123.2 L67.9,124.2 L68.0,125.2 L68.2,126.2 L68.3,127.1 L68.5,128.1 L68.6,129.1 L68.8,130.1 L68.9,131.1 L69.1,132.1 L69.2,133.1 L69.4,134.1 L69.6,135.1 L69.7,136.1 L69.9,137.1 L70.0,138.1 L70.2,139.1 L70.3,140.0 L70.5,141.0 L70.7,142.0 L70.8,143.0 L71.0,144.0 L71.2,145.0 L71.3,146.0 L71.5,147.0 L71.6,148.0 L71.8,148.9 L72.0,149.9 L72.2,150.9 L72.3,151.9 L72.5,152.9 L72.7,153.9 L72.8,154.9 L73.0,155.9 L73.2,156.8 L73.4,157.8 L73.6,158.8 L73.7,159.8 L73.9,160.8 L74.1,161.8 L74.3,162.8 L74.5,163.7 L74.7,164.7 L74.8,165.7 L75.0,166.7 L75.2,167.7 L75.4,168.7 L75.6,169.6 L75.8,170.6 L76.0,171.6 L76.2,172.6 L76.4,173.6 L76.6,174.6 L76.8,175.5 L77.0,176.5 L77.2,177.5 L77.4,178.5 L77.6,179.5 L77.8,180.4 L78.0,181.4 L78.2,182.4 L78.4,183.4 L78.6,184.4 L78.8,185.3 L79.1,186.3 L79.3,187.3 L79.5,188.3 L79.7,189.2 L79.9,190.2 L80.2,191.2 L80.4,192.2 L80.6,193.1 L80.8,194.1 L81.1,195.1 L81.3,196.1 L81.5,197.0 L81.7,198.0 L82.0,199.0 L82.2,199.9 L82.4,200.9 L82.7,201.9 L82.9,202.9 L83.2,203.8 L83.4,204.8 L83.6,205.8 L83.9,206.7 L84.1,207.7 L84.4,208.7 L84.6,209.6 L84.9,210.6 L85.1,211.6 L85.4,212.5 L85.6,213.5 L85.9,214.5 L86.2,215.4 L86.4,216.4 L86.7,217.3 L87.0,218.3 L87.2,219.3 L87.5,220.2 L87.8,221.2 L88.0,222.2 L88.3,223.1 L88.6,224.1 L88.8,225.0 L89.1,226.0 L89.4,227.0 L89.7,227.9 L90.0,228.9 L90.3,229.8 L90.5,230.8 L90.8,231.7 L91.1,232.7 L91.4,233.6 L91.7,234.6 L92.0,235.5 L92.3,236.5 L92.7,237.5 L93.0,238.4 L93.3,239.3 L93.6,240.3 L93.9,241.2 L94.3,242.2 L94.6,243.1 L94.9,244.1 L95.3,245.0 L95.6,246.0 L96.0,246.9 L96.3,247.8 L96.7,248.8 L97.1,249.7 L97.5,250.7 L97.8,251.6 L98.2,252.5 L98.6,253.5 L99.0,254.4 L99.4,255.3 L99.8,256.3 L100.3,257.2 L100.7,258.1 L101.1,259.0 L101.6,260.0 L102.0,260.9 L102.5,261.8 L102.9,262.7 L103.4,263.6 L103.9,264.6 L104.4,265.5 L104.8,266.4 L105.3,267.3 L105.9,268.2 L106.4,269.1 L106.9,270.0 L107.4,270.9 L108.0,271.8 L108.5,272.7 L109.1,273.6 L109.7,274.4 L110.3,275.3 L110.8,276.1 L111.4,277.0 L112.1,277.8 L112.7,278.6 L113.3,279.4 L113.9,280.2 L114.6,281.0 L115.2,281.8 L115.9,282.5 L116.6,283.3 L117.3,284.0 L118.0,284.7 L118.7,285.4 L119.4,286.1 L120.1,286.8 L120.9,287.4 L121.6,288.0 L122.4,288.6 L123.1,289.2 L123.9,289.8 L124.7,290.3 L125.5,290.9 L126.3,291.3 L127.1,291.8 L128.0,292.3 L128.8,292.7 L129.7,293.1 L130.6,293.5 L131.4,293.8 L132.3,294.2 L133.2,294.5 L134.1,294.7 L135.1,295.0 L136.0,295.2 L136.9,295.4 L137.8,295.6 L138.8,295.8 L139.7,296.0 L140.7,296.1 L141.7,296.2 L142.6,296.3 L143.6,296.3 L144.6,296.4 L145.6,296.4 L146.5,296.4 L147.5,296.4 L148.5,296.3 L149.5,296.3 L150.5,296.2 L151.5,296.1 L152.5,296.0 L153.5,295.9 L154.5,295.7 L155.4,295.5 L156.4,295.3 L157.4,295.1 L158.4,294.9 L159.4,294.7 L160.4,294.4 L161.3,294.1 L162.3,293.9 L163.3,293.5 L164.2,293.2 L165.2,292.9 L166.1,292.5 L167.1,292.2 L168.0,291.8 L169.0,291.4 L169.9,291.0 L170.8,290.6 L171.8,290.1 L172.7,289.7 L173.6,289.2 L174.5,288.8 L175.4,288.3 L176.3,287.8 L177.2,287.3 L178.1,286.8 L179.0,286.3 L179.8,285.7 L180.7,285.2 L181.6,284.6 L182.5,284.1 L183.3,283.5 L184.2,283.0 L185.0,282.4 L185.9,281.8 L186.7,281.2 L187.5,280.6 L188.4,280.1 L189.2,279.5 L190.0,278.9 L190.8,278.3 L191.7,277.6 L192.5,277.0 L193.3,276.4 L194.1,275.8 L194.9,275.2 L195.7,274.6 L196.5,273.9 L197.2,273.3 L198.0,272.7 L198.8,272.0 L199.6,271.4 L200.4,270.8 L201.1,270.1 L201.9,269.5 L202.7,268.8 L203.4,268.2 L204.2,267.5 L204.9,266.9 L205.7,266.2 L206.4,265.6 L207.2,264.9 L207.9,264.3 L208.7,263.6 L209.4,263.0 L210.2,262.3 L210.9,261.6 L211.7,261.0 L212.4,260.3 L213.1,259.7 L213.9,259.0 L214.6,258.3 L215.3,257.7 L216.1,257.0 L216.8,256.3 L217.5,255.7 L218.3,255.0 L219.0,254.3 L219.7,253.7 L220.5,253.0 L221.2,252.3 L222.0,251.7 L222.7,251.0 L223.4,250.3 L224.2,249.7 L224.9,249.0 L225.7,248.3 L226.4,247.7 L227.1,247.0 L227.9,246.4 L228.6,245.7 L229.4,245.0 L230.1,244.4 L230.9,243.7 L231.6,243.1 L232.4,242.4 L233.1,241.7 L233.9,241.1 L234.6,240.4 L235.4,239.8 L236.1,239.1 L236.9,238.5 L237.6,237.8 L238.4,237.2 L239.2,236.5 L239.9,235.8 L240.7,235.2 L241.4,234.5 L242.2,233.9 L243.0,233.2 L243.7,232.6 L244.5,232.0 L245.2,231.3 L246.0,230.7 L246.8,230.0 L247.5,229.4 L248.3,228.7 L249.1,228.1 L249.9,227.4 L250.6,226.8 L251.4,226.2 L252.2,225.5 L252.9,224.9 L253.7,224.2 L254.5,223.6 L255.3,223.0 L256.1,222.3 L256.8,221.7 L257.6,221.0 L258.4,220.4 L259.2,219.8 L259.9,219.1 L260.7,218.5 L261.5,217.9 L262.3,217.2 L263.1,216.6 L263.9,216.0 L264.6,215.4 L265.4,214.7 L266.2,214.1 L267.0,213.5 L267.8,212.9 L268.6,212.2 L269.4,211.6 L270.2,211.0 L271.0,210.4 L271.8,209.7 L272.5,209.1 L273.3,208.5 L274.1,207.9 L274.9,207.3 L275.7,206.6 L276.5,206.0 L277.3,205.4 L278.1,204.8 L278.9,204.2 L279.7,203.6 L280.5,203.0 L281.3,202.3 L282.1,201.7 L282.9,201.1 L283.7,200.5 L284.5,199.9 L285.3,199.3 L286.1,198.7 L286.9,198.1 L287.7,197.5 L288.6,196.9 L289.4,196.3 L290.2,195.7 L291.0,195.1 L291.8,194.5 L292.6,193.9 L293.4,193.3 L294.2,192.7 L295.0,192.1 L295.8,191.5 L296.6,190.9 L297.5,190.3 L298.3,189.7 L299.1,189.1 L299.9,188.5 L300.7,188.0 L301.5,187.4 L302.3,186.8 L303.2,186.2 L304.0,185.6 L304.8,185.0 L305.6,184.4 L306.4,183.9 L307.3,183.3 L308.1,182.7 L308.9,182.1 L309.7,181.5 L310.5,181.0 L311.4,180.4 L312.2,179.8 L313.0,179.2 L313.8,178.7 L314.7,178.1 L315.5,177.5 L316.3,177.0 L317.1,176.4 L318.0,175.8 L318.8,175.3 L319.6,174.7 L320.4,174.1 L321.3,173.6 L322.1,173.0 L322.9,172.4 L323.7,171.9 L324.6,171.3 L325.4,170.8 L326.2,170.2 L327.1,169.7 L327.9,169.1 L328.7,168.5 L329.6,168.0 L330.4,167.4 L331.2,166.9 L332.1,166.3 L332.9,165.8 L333.7,165.2 L334.6,164.7" stroke="#17becf" stroke-width="1.2" stroke-dasharray="3.7,2.9" stroke-opacity="0.55"/>
<path d="M53.3,32.8 L53.5,33.8 L53.6,34.7 L53.8,35.7 L54.0,36.7 L54.1,37.7 L54.3,38.7 L54.4,39.6 L54.6,40.6 L54.7,41.6 L54.9,42.6 L55.0,43.6 L55.2,44.6 L55.3,45.5 L55.5,46.5 L55.6,47.5 L55.8,48.5 L55.9,49.5 L56.0,50.5 L56.2,51.5 L56.3,52.4 L56.5,53.4 L56.6,54.4 L56.7,55.4 L56.9,56.4 L57.0,57.4 L57.1,58.4 L57.3,59.4 L57.4,60.4 L57.5,61.3 L57.7,62.3 L57.8,63.3 L57.9,64.3 L58.1,65.3 L58.2,66.3 L58.3,67.3 L58.4,68.3 L58.6,69.3 L58.7,70.3 L58.8,71.3 L58.9,72.3 L59.1,73.3 L59.2,74.3 L59.3,75.3 L59.4,76.3 L59.6,77.2 L59.7,78.2 L59.8,79.2 L59.9,80.2 L60.0,81.2 L60.2,82.2 L60.3,83.2 L60.4,84.2 L60.5,85.2 L60.6,86.2 L60.8,87.2 L60.9,88.2 L61.0,89.2 L61.1,90.2 L61.2,91.2 L61.3,92.2 L61.5,93.2 L61.6,94.2 L61.7,95.2 L61.8,96.2 L61.9,97.2 L62.0,98.2 L62.2,99.2 L62.3,100.2 L62.4,101.2 L62.5,102.2 L62.6,103.2 L62.7,104.2 L62.9,105.2 L63.0,106.2 L63.1,107.2 L63.2,108.2 L63.3,109.2 L63.4,110.2 L63.6,111.2 L63.7,112.2 L63.8,113.2 L63.9,114.2 L64.0,115.2 L64.2,116.2 L64.3,117.2 L64.4,118.2 L64.5,119.2 L64.6,120.2 L64.8,121.2 L64.9,122.2 L65.0,123.2 L65.1,124.2 L65.3,125.2 L65.4,126.2 L65.5,127.2 L65.6,128.2 L65.7,129.2 L65.9,130.2 L66.0,131.2 L66.1,132.2 L66.3,133.2 L66.4,134.2 L66.5,135.2 L66.6,136.2 L66.8,137.2 L66.9,138.2 L67.0,139.2 L67.2,140.2 L67.3,141.2 L67.4,142.2 L67.6,143.2 L67.7,144.2 L67.9,145.2 L68.0,146.2 L68.1,147.2 L68.3,148.2 L68.4,149.2 L68.6,150.2 L68.7,151.2 L68.8,152.2 L69.0,153.2 L69.1,154.2 L69.3,155.2 L69.4,156.2 L69.6,157.2 L69.7,158.2 L69.9,159.2 L70.0,160.2 L70.2,161.1 L70.4,162.1 L70.5,163.1 L70.7,164.1 L70.8,165.1 L71.0,166.1 L71.2,167.1 L71.3,168.1 L71.5,169.1 L71.6,170.1 L71.8,171.1 L72.0,172.1 L72.2,173.0 L72.3,174.0 L72.5,175.0 L72.7,176.0 L72.9,177.0 L73.0,178.0 L73.2,179.0 L73.4,180.0 L73.6,181.0 L73.8,181.9 L74.0,182.9 L74.1,183.9 L74.3,184.9 L74.5,185.9 L74.7,186.9 L74.9,187.8 L75.1,188.8 L75.3,189.8 L75.5,190.8 L75.7,191.8 L75.9,192.8 L76.1,193.7 L76.3,194.7 L76.5,195.7 L76.8,196.7 L77.0,197.6 L77.2,198.6 L77.4,199.6 L77.6,200.6 L77.9,201.6 L78.1,202.5 L78.3,203.5 L78.5,204.5 L78.8,205.5 L79.0,206.4 L79.2,207.4 L79.5,208.4 L79.7,209.3 L80.0,210.3 L80.2,211.3 L80.4,212.3 L80.7,213.2 L80.9,214.2 L81.2,215.2 L81.5,216.1 L81.7,217.1 L82.0,218.1 L82.2,219.0 L82.5,220.0 L82.8,220.9 L83.0,221.9 L83.3,222.9 L83.6,223.8 L83.9,224.8 L84.1,225.7 L84.4,226.7 L84.7,227.7 L85.0,228.6 L85.3,229.6 L85.6,230.5 L85.9,231.5 L86.2,232.4 L86.5,233.4 L86.8,234.3 L87.1,235.3 L87.4,236.2 L87.7,237.2 L88.0,238.1 L88.4,239.1 L88.7,240.0 L89.0,241.0 L89.3,241.9 L89.7,242.9 L90.0,243.8 L90.3,244.7 L90.7,245.7 L91.0,246.6 L91.4,247.6 L91.7,248.5 L92.1,249.4 L92.4,250.4 L92.8,251.3 L93.2,252.2 L93.5,253.2 L93.9,254.1 L94.3,255.0 L94.6,256.0 L95.0,256.9 L95.4,257.8 L95.8,258.7 L96.2,259.7 L96.6,260.6 L97.0,261.5 L97.4,262.4 L97.8,263.4 L98.2,264.3 L98.6,265.2 L99.0,266.1 L99.4,267.0 L99.8,267.9 L100.3,268.9 L100.7,269.8 L101.1,270.7 L101.5,271.6 L102.0,272.5 L102.4,273.4 L102.9,274.3 L103.3,275.2 L103.8,276.1 L104.2,277.0 L104.7,277.9 L105.2,278.8 L105.6,279.7 L106.1,280.6 L106.6,281.5 L107.1,282.4 L107.5,283.3 L108.0,284.2 L108.5,285.1 L109.0,286.0 L109.5,286.8 L110.0,287.7 L110.5,288.6 L111.0,289.5 L111.6,290.4" stroke="#000" stroke-width="1.6" stroke-opacity="1"/>
<path d="M111.6,290.2 L112.3,291.0 L113.1,291.8 L113.8,292.5 L114.5,293.3 L115.3,294.1 L116.0,294.8 L116.8,295.6 L117.5,296.3 L118.3,297.1 L119.1,297.8 L119.8,298.5 L120.6,299.2 L121.4,300.0 L122.2,300.7 L123.0,301.4 L123.8,302.1 L124.6,302.8 L125.4,303.5 L126.2,304.2 L127.1,304.8 L127.9,305.5" stroke="#000" stroke-width="1.6" stroke-opacity="1"/>
<path d="M127.7,305.7 L128.7,306.1 L129.8,306.4 L130.8,306.8 L131.9,307.0 L132.9,307.3 L134.0,307.5 L135.0,307.7 L136.0,307.9 L137.0,308.1 L138.1,308.2 L139.1,308.3 L140.1,308.4 L141.1,308.5 L142.1,308.5 L143.1,308.5 L144.1,308.5 L145.1,308.5 L146.0,308.4 L147.0,308.3 L148.0,308.2 L149.0,308.1 L149.9,308.0 L150.9,307.8 L151.9,307.7 L152.8,307.5 L153.8,307.3 L154.7,307.0 L155.7,306.8 L156.6,306.5 L157.6,306.3 L158.5,306.0 L159.4,305.7 L160.4,305.3 L161.3,305.0 L162.2,304.7 L163.1,304.3 L164.0,303.9 L165.0,303.5 L165.9,303.1 L166.8,302.7 L167.7,302.3 L168.6,301.9 L169.5,301.4 L170.4,301.0 L171.3,300.5 L172.2,300.1 L173.0,299.6 L173.9,299.1 L174.8,298.6 L175.7,298.1 L176.6,297.6 L177.5,297.1 L178.3,296.6 L179.2,296.1 L180.1,295.5 L180.9,295.0 L181.8,294.5 L182.7,293.9 L183.5,293.4 L184.4,292.9 L185.2,292.3 L186.1,291.8 L186.9,291.2 L187.8,290.6 L188.6,290.1 L189.5,289.5 L190.3,289.0 L191.2,288.4 L192.0,287.8 L192.9,287.2 L193.7,286.7 L194.5,286.1 L195.4,285.5 L196.2,284.9 L197.0,284.3 L197.9,283.7 L198.7,283.1 L199.5,282.5 L200.4,281.9 L201.2,281.3 L202.0,280.7 L202.8,280.1 L203.6,279.5 L204.5,278.9 L205.3,278.3 L206.1,277.7 L206.9,277.1 L207.7,276.5 L208.6,275.9 L209.4,275.3 L210.2,274.6 L211.0,274.0 L211.8,273.4 L212.6,272.8 L213.4,272.2 L214.2,271.5 L215.1,270.9 L215.9,270.3 L216.7,269.7 L217.5,269.0 L218.3,268.4 L219.1,267.8 L219.9,267.2 L220.7,266.5 L221.5,265.9 L222.3,265.3 L223.1,264.7 L223.9,264.0 L224.7,263.4 L225.5,262.8 L226.4,262.2 L227.2,261.5 L228.0,260.9 L228.8,260.3 L229.6,259.7 L230.4,259.0 L231.2,258.4 L232.0,257.8 L232.8,257.2 L233.6,256.6 L234.4,255.9 L235.2,255.3 L236.0,254.7 L236.8,254.1 L237.6,253.5 L238.5,252.9 L239.3,252.3 L240.1,251.7 L240.9,251.1 L241.7,250.4 L242.5,249.8 L243.3,249.2 L244.1,248.7 L245.0,248.1 L245.8,247.5 L246.6,246.9 L247.4,246.3 L248.2,245.7 L249.0,245.1 L249.9,244.5 L250.7,244.0 L251.5,243.4 L252.3,242.8 L253.2,242.2 L254.0,241.7 L254.8,241.1 L255.6,240.5 L256.5,240.0 L257.3,239.4 L258.1,238.9 L259.0,238.3 L259.8,237.8 L260.6,237.2 L261.5,236.7 L262.3,236.2 L263.2,235.7 L264.0,235.1 L264.9,234.6 L265.7,234.1 L266.6,233.6" stroke="#000" stroke-width="1.5" stroke-dasharray="1.8,1.7" stroke-opacity="1"/>
</g>
<rect x="39" y="0" width="1" height="369" fill="#8a8a8a"/>
<rect x="40" y="2" width="1" height="365" fill="#dcdcdc"/>
<rect x="341" y="0" width="1" height="369" fill="#999"/>
<rect x="340" y="2" width="1" height="365" fill="#d8d8d8"/>
<rect x="39" y="0" width="303" height="1" fill="#aaa"/>
<rect x="39" y="1" width="303" height="1" fill="#8c8c8c"/>
<rect x="41" y="367" width="299" height="1" fill="#d0d0d0"/>
<rect x="39" y="368" width="303" height="1" fill="#999"/>
<rect x="39" y="369" width="303" height="1" fill="#e4e4e4"/>
<rect x="37.5" y="343.04" width="1.5" height="1.1" fill="#444"/>
<text style="stroke-width:0.2px" x="35.2" y="346.89" font-size="10.0" text-anchor="end" textLength="20.2" lengthAdjust="spacingAndGlyphs" fill="#000">14.0</text>
<rect x="37.5" y="296.16" width="1.5" height="1.1" fill="#444"/>
<text style="stroke-width:0.2px" x="35.2" y="300.01" font-size="10.0" text-anchor="end" textLength="20.2" lengthAdjust="spacingAndGlyphs" fill="#000">14.5</text>
<rect x="37.5" y="249.27" width="1.5" height="1.1" fill="#444"/>
<text style="stroke-width:0.2px" x="35.2" y="253.12" font-size="10.0" text-anchor="end" textLength="20.2" lengthAdjust="spacingAndGlyphs" fill="#000">15.0</text>
<rect x="37.5" y="202.39" width="1.5" height="1.1" fill="#444"/>
<text style="stroke-width:0.2px" x="35.2" y="206.24" font-size="10.0" text-anchor="end" textLength="20.2" lengthAdjust="spacingAndGlyphs" fill="#000">15.5</text>
<rect x="37.5" y="155.50" width="1.5" height="1.1" fill="#444"/>
<text style="stroke-width:0.2px" x="35.2" y="159.36" font-size="10.0" text-anchor="end" textLength="20.2" lengthAdjust="spacingAndGlyphs" fill="#000">16.0</text>
<rect x="37.5" y="108.62" width="1.5" height="1.1" fill="#444"/>
<text style="stroke-width:0.2px" x="35.2" y="112.47" font-size="10.0" text-anchor="end" textLength="20.2" lengthAdjust="spacingAndGlyphs" fill="#000">16.5</text>
<rect x="37.5" y="61.73" width="1.5" height="1.1" fill="#444"/>
<text style="stroke-width:0.2px" x="35.2" y="65.58" font-size="10.0" text-anchor="end" textLength="20.2" lengthAdjust="spacingAndGlyphs" fill="#000">17.0</text>
<rect x="37.5" y="14.85" width="1.5" height="1.1" fill="#444"/>
<text style="stroke-width:0.2px" x="35.2" y="18.70" font-size="10.0" text-anchor="end" textLength="20.2" lengthAdjust="spacingAndGlyphs" fill="#000">17.5</text>
<rect x="43.45" y="369" width="1.1" height="1.8" fill="#444"/>
<text style="stroke-width:0.2px" x="44.00" y="380.6" font-size="10.0" text-anchor="middle" textLength="14.6" lengthAdjust="spacingAndGlyphs" fill="#000">1.0</text>
<rect x="91.82" y="369" width="1.1" height="1.8" fill="#444"/>
<text style="stroke-width:0.2px" x="92.37" y="380.6" font-size="10.0" text-anchor="middle" textLength="14.6" lengthAdjust="spacingAndGlyphs" fill="#000">1.5</text>
<rect x="140.18" y="369" width="1.1" height="1.8" fill="#444"/>
<text style="stroke-width:0.2px" x="140.73" y="380.6" font-size="10.0" text-anchor="middle" textLength="14.6" lengthAdjust="spacingAndGlyphs" fill="#000">2.0</text>
<rect x="188.54" y="369" width="1.1" height="1.8" fill="#444"/>
<text style="stroke-width:0.2px" x="189.09" y="380.6" font-size="10.0" text-anchor="middle" textLength="14.6" lengthAdjust="spacingAndGlyphs" fill="#000">2.5</text>
<rect x="236.91" y="369" width="1.1" height="1.8" fill="#444"/>
<text style="stroke-width:0.2px" x="237.46" y="380.6" font-size="10.0" text-anchor="middle" textLength="14.6" lengthAdjust="spacingAndGlyphs" fill="#000">3.0</text>
<rect x="285.28" y="369" width="1.1" height="1.8" fill="#444"/>
<text style="stroke-width:0.2px" x="285.83" y="380.6" font-size="10.0" text-anchor="middle" textLength="14.6" lengthAdjust="spacingAndGlyphs" fill="#000">3.5</text>
<rect x="333.64" y="369" width="1.1" height="1.8" fill="#444"/>
<text style="stroke-width:0.2px" x="334.19" y="380.6" font-size="10.0" text-anchor="middle" textLength="14.6" lengthAdjust="spacingAndGlyphs" fill="#000">4.0</text>
<text x="137.4" y="391.6" font-size="11.7" textLength="106.6" lengthAdjust="spacingAndGlyphs" fill="#000">Bond length (a<tspan font-size="8.6" dy="2.2">0</tspan><tspan dy="-2.2">)</tspan></text>
<text transform="translate(9.8,184.5) rotate(-90)" x="-38.3" y="0" font-size="11.8" textLength="76.6" lengthAdjust="spacingAndGlyphs" fill="#000">Energy (eV)</text>
<line x1="111.6" y1="290.2" x2="125.3" y2="280.1" stroke="#000" stroke-width="0.7"/>
<text x="128.4" y="278.3" font-size="11.6" text-anchor="middle" fill="#000">1</text>
<rect x="117.5" y="7" width="72.6" height="175.8" rx="2" fill="#fff" fill-opacity="0.8" stroke="#e0e0e0" stroke-width="1"/>
<line x1="121.6" y1="16.90" x2="142.8" y2="16.90" stroke="#17becf" stroke-opacity="0.5" stroke-width="1.25" stroke-dasharray="3.7,2.9"/>
<text style="stroke-width:0.12px" x="151.95" y="20.20" font-size="10.2" font-style="italic" textLength="10.06" lengthAdjust="spacingAndGlyphs" fill="#000">m</text>
<text style="stroke-width:0.18px" x="161.79" y="16.50" font-size="8.2" fill="#000">3</text>
<text style="stroke-width:0.12px" x="167.90" y="20.20" font-size="10.2" textLength="5.29" lengthAdjust="spacingAndGlyphs" fill="#000">Σ</text>
<text style="stroke-width:0.18px" x="173.60" y="17.20" font-size="8.2" fill="#000">+</text>
<text style="stroke-width:0.18px" x="173.68" y="22.90" font-size="7.6" font-style="italic" fill="#000">u</text>
<line x1="121.6" y1="30.80" x2="142.8" y2="30.80" stroke="#2ca02c" stroke-opacity="0.5" stroke-width="1.25" stroke-dasharray="3.7,2.9"/>
<text style="stroke-width:0.12px" x="151.43" y="34.20" font-size="10.2" font-style="italic" textLength="5.81" lengthAdjust="spacingAndGlyphs" fill="#000">g</text>
<text style="stroke-width:0.18px" x="157.79" y="30.50" font-size="8.2" fill="#000">3</text>
<text style="stroke-width:0.12px" x="163.46" y="34.20" font-size="10.2" textLength="5.76" lengthAdjust="spacingAndGlyphs" fill="#000">Σ</text>
<text style="stroke-width:0.18px" x="170.00" y="31.20" font-size="8.2" fill="#000">+</text>
<text style="stroke-width:0.18px" x="170.39" y="36.90" font-size="7.6" font-style="italic" fill="#000">g</text>
<line x1="121.6" y1="45.20" x2="142.8" y2="45.20" stroke="#7f7f7f" stroke-opacity="0.5" stroke-width="1.25" stroke-dasharray="3.5,4.7"/>
<text style="stroke-width:0.12px" x="151.46" y="48.40" font-size="10.2" font-style="italic" textLength="13.58" lengthAdjust="spacingAndGlyphs" fill="#000">HH</text>
<text style="stroke-width:0.18px" x="166.46" y="44.70" font-size="8.2" fill="#000">1</text>
<text style="stroke-width:0.12px" x="172.45" y="48.40" font-size="10.2" textLength="5.88" lengthAdjust="spacingAndGlyphs" fill="#000">Σ</text>
<text style="stroke-width:0.18px" x="178.60" y="45.40" font-size="8.2" fill="#000">+</text>
<text style="stroke-width:0.18px" x="178.99" y="51.10" font-size="7.6" font-style="italic" fill="#000">g</text>
<line x1="121.6" y1="60.30" x2="142.8" y2="60.30" stroke="#d62728" stroke-opacity="0.5" stroke-width="1.25"/>
<text style="stroke-width:0.12px" x="151.60" y="63.50" font-size="10.2" font-style="italic" textLength="2.04" lengthAdjust="spacingAndGlyphs" fill="#000">i</text>
<text style="stroke-width:0.18px" x="154.29" y="59.80" font-size="8.2" fill="#000">3</text>
<text style="stroke-width:0.12px" x="159.93" y="63.50" font-size="10.2" textLength="6.33" lengthAdjust="spacingAndGlyphs" fill="#000">Π</text>
<text style="stroke-width:0.18px" x="166.79" y="66.20" font-size="7.6" font-style="italic" fill="#000">g</text>
<line x1="121.6" y1="74.10" x2="142.8" y2="74.10" stroke="#2ca02c" stroke-opacity="0.5" stroke-width="1.25" stroke-dasharray="3.1,1.8"/>
<text style="stroke-width:0.12px" x="151.55" y="77.60" font-size="10.2" font-style="italic" textLength="6.65" lengthAdjust="spacingAndGlyphs" fill="#000">h</text>
<text style="stroke-width:0.18px" x="158.54" y="73.90" font-size="8.2" fill="#000">3</text>
<text style="stroke-width:0.12px" x="163.68" y="77.60" font-size="10.2" textLength="5.52" lengthAdjust="spacingAndGlyphs" fill="#000">Σ</text>
<text style="stroke-width:0.18px" x="170.60" y="74.60" font-size="8.2" fill="#000">+</text>
<text style="stroke-width:0.18px" x="170.99" y="80.30" font-size="7.6" font-style="italic" fill="#000">g</text>
<line x1="121.6" y1="89.20" x2="142.8" y2="89.20" stroke="#e377c2" stroke-opacity="0.5" stroke-width="1.25"/>
<text style="stroke-width:0.12px" x="151.03" y="92.10" font-size="10.2" font-style="italic" textLength="2.94" lengthAdjust="spacingAndGlyphs" fill="#000">I</text>
<text style="stroke-width:0.18px" x="154.86" y="88.40" font-size="8.2" fill="#000">1</text>
<text style="stroke-width:0.12px" x="160.43" y="92.10" font-size="10.2" textLength="6.33" lengthAdjust="spacingAndGlyphs" fill="#000">Π</text>
<text style="stroke-width:0.18px" x="167.29" y="94.80" font-size="7.6" font-style="italic" fill="#000">g</text>
<line x1="121.6" y1="102.70" x2="142.8" y2="102.70" stroke="#9467bd" stroke-opacity="0.5" stroke-width="1.25" stroke-dasharray="3.1,1.8"/>
<text style="stroke-width:0.12px" x="151.45" y="105.60" font-size="10.2" font-style="italic" textLength="6.54" lengthAdjust="spacingAndGlyphs" fill="#000">B</text>
<text style="stroke-width:0.18px" x="161.41" y="101.90" font-size="8.2" fill="#000">1</text>
<text style="stroke-width:0.12px" x="166.65" y="105.60" font-size="10.2" textLength="5.88" lengthAdjust="spacingAndGlyphs" fill="#000">Σ</text>
<text style="stroke-width:0.18px" x="159.44" y="101.90" font-size="8.2" fill="#000">′</text>
<text style="stroke-width:0.18px" x="173.50" y="102.60" font-size="8.2" fill="#000">+</text>
<text style="stroke-width:0.18px" x="173.58" y="108.30" font-size="7.6" font-style="italic" fill="#000">u</text>
<line x1="121.6" y1="116.50" x2="142.8" y2="116.50" stroke="#17becf" stroke-opacity="0.5" stroke-width="1.25" stroke-dasharray="3.1,1.8"/>
<text style="stroke-width:0.12px" x="151.05" y="120.00" font-size="10.2" font-style="italic" textLength="6.53" lengthAdjust="spacingAndGlyphs" fill="#000">e</text>
<text style="stroke-width:0.18px" x="157.34" y="116.30" font-size="8.2" fill="#000">3</text>
<text style="stroke-width:0.12px" x="163.46" y="120.00" font-size="10.2" textLength="5.76" lengthAdjust="spacingAndGlyphs" fill="#000">Σ</text>
<text style="stroke-width:0.18px" x="170.20" y="117.00" font-size="8.2" fill="#000">+</text>
<text style="stroke-width:0.18px" x="170.28" y="122.70" font-size="7.6" font-style="italic" fill="#000">u</text>
<line x1="121.6" y1="129.90" x2="142.8" y2="129.90" stroke="#7f7f7f" stroke-opacity="0.5" stroke-width="1.25" stroke-dasharray="3.6,3.0"/>
<text style="stroke-width:0.12px" x="151.29" y="133.60" font-size="10.2" font-style="italic" textLength="13.42" lengthAdjust="spacingAndGlyphs" fill="#000">GK</text>
<text style="stroke-width:0.18px" x="166.31" y="129.90" font-size="8.2" fill="#000">1</text>
<text style="stroke-width:0.12px" x="172.36" y="133.60" font-size="10.2" textLength="5.76" lengthAdjust="spacingAndGlyphs" fill="#000">Σ</text>
<text style="stroke-width:0.18px" x="178.30" y="130.60" font-size="8.2" fill="#000">+</text>
<text style="stroke-width:0.18px" x="178.69" y="136.30" font-size="7.6" font-style="italic" fill="#000">g</text>
<line x1="121.6" y1="144.50" x2="142.8" y2="144.50" stroke="#8c564b" stroke-opacity="0.5" stroke-width="1.25"/>
<text style="stroke-width:0.12px" x="151.23" y="148.00" font-size="10.2" font-style="italic" textLength="6.77" lengthAdjust="spacingAndGlyphs" fill="#000">C</text>
<text style="stroke-width:0.18px" x="158.81" y="144.30" font-size="8.2" fill="#000">1</text>
<text style="stroke-width:0.12px" x="164.13" y="148.00" font-size="10.2" textLength="6.33" lengthAdjust="spacingAndGlyphs" fill="#000">Π</text>
<text style="stroke-width:0.18px" x="171.18" y="150.70" font-size="7.6" font-style="italic" fill="#000">u</text>
<line x1="121.6" y1="157.20" x2="142.8" y2="157.20" stroke="#2ca02c" stroke-opacity="0.5" stroke-width="1.25"/>
<text style="stroke-width:0.12px" x="151.51" y="160.80" font-size="10.2" font-style="italic" textLength="6.01" lengthAdjust="spacingAndGlyphs" fill="#000">a</text>
<text style="stroke-width:0.18px" x="158.54" y="157.10" font-size="8.2" fill="#000">3</text>
<text style="stroke-width:0.12px" x="163.46" y="160.80" font-size="10.2" textLength="5.76" lengthAdjust="spacingAndGlyphs" fill="#000">Σ</text>
<text style="stroke-width:0.18px" x="170.60" y="157.80" font-size="8.2" fill="#000">+</text>
<text style="stroke-width:0.18px" x="170.99" y="163.50" font-size="7.6" font-style="italic" fill="#000">g</text>
<line x1="121.6" y1="172.10" x2="142.8" y2="172.10" stroke="#1f77b4" stroke-opacity="0.5" stroke-width="1.25"/>
<text style="stroke-width:0.12px" x="151.08" y="176.30" font-size="10.2" font-style="italic" textLength="5.70" lengthAdjust="spacingAndGlyphs" fill="#000">c</text>
<text style="stroke-width:0.18px" x="157.59" y="172.60" font-size="8.2" fill="#000">3</text>
<text style="stroke-width:0.12px" x="162.16" y="176.30" font-size="10.2" textLength="6.98" lengthAdjust="spacingAndGlyphs" fill="#000">Π</text>
<text style="stroke-width:0.18px" x="169.78" y="179.00" font-size="7.6" font-style="italic" fill="#000">u</text>
</svg></body></html>
